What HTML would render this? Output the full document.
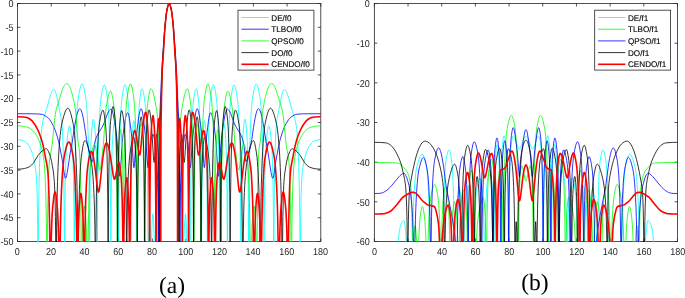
<!DOCTYPE html>
<html lang="en"><head><meta charset="utf-8"><title>Radiation patterns</title>
<style>
html,body{margin:0;padding:0;background:#fff;}
body{width:685px;height:298px;overflow:hidden;}
svg{display:block;text-rendering:geometricPrecision;}
.tk text{font-family:"Liberation Sans",Arial,Helvetica,sans-serif;font-size:10px;fill:#262626;}
.lg{font-family:"Liberation Sans",Arial,Helvetica,sans-serif;font-size:8.15px;fill:#000;stroke:#000;stroke-width:0.12px;}
.cap{font-family:"Liberation Serif","Times New Roman",Times,serif;font-size:23.5px;fill:#000;text-anchor:middle;}
</style></head><body>
<svg width="685" height="298" viewBox="0 0 685 298">
<rect width="685" height="298" fill="#fff"/>
<clipPath id="ca"><rect x="17.5" y="2.3" width="303.3" height="239.7"/></clipPath>
<rect x="17.5" y="3.5" width="303.3" height="238.0" fill="#fff" stroke="#262626" stroke-width="0.8"/>
<path d="M17.50 241.5v-3.0M17.50 3.5v3.0M51.20 241.5v-3.0M51.20 3.5v3.0M84.90 241.5v-3.0M84.90 3.5v3.0M118.60 241.5v-3.0M118.60 3.5v3.0M152.30 241.5v-3.0M152.30 3.5v3.0M186.00 241.5v-3.0M186.00 3.5v3.0M219.70 241.5v-3.0M219.70 3.5v3.0M253.40 241.5v-3.0M253.40 3.5v3.0M287.10 241.5v-3.0M287.10 3.5v3.0M320.80 241.5v-3.0M320.80 3.5v3.0M17.5 3.50h3.0M320.8 3.50h-3.0M17.5 27.30h3.0M320.8 27.30h-3.0M17.5 51.10h3.0M320.8 51.10h-3.0M17.5 74.90h3.0M320.8 74.90h-3.0M17.5 98.70h3.0M320.8 98.70h-3.0M17.5 122.50h3.0M320.8 122.50h-3.0M17.5 146.30h3.0M320.8 146.30h-3.0M17.5 170.10h3.0M320.8 170.10h-3.0M17.5 193.90h3.0M320.8 193.90h-3.0M17.5 217.70h3.0M320.8 217.70h-3.0M17.5 241.50h3.0M320.8 241.50h-3.0" stroke="#262626" stroke-width="0.8" fill="none"/>
<g class="tk" text-anchor="middle">
<text transform="translate(17.2 254.9) scale(0.9 1)">0</text>
<text transform="translate(50.9 254.9) scale(0.9 1)">20</text>
<text transform="translate(84.6 254.9) scale(0.9 1)">40</text>
<text transform="translate(118.3 254.9) scale(0.9 1)">60</text>
<text transform="translate(152.0 254.9) scale(0.9 1)">80</text>
<text transform="translate(185.7 254.9) scale(0.9 1)">100</text>
<text transform="translate(219.4 254.9) scale(0.9 1)">120</text>
<text transform="translate(253.1 254.9) scale(0.9 1)">140</text>
<text transform="translate(286.8 254.9) scale(0.9 1)">160</text>
<text transform="translate(320.5 254.9) scale(0.9 1)">180</text>
</g>
<g class="tk" text-anchor="end">
<text transform="translate(13.5 7.25) scale(0.9 1)">0</text>
<text transform="translate(13.5 31.05) scale(0.9 1)">-5</text>
<text transform="translate(13.5 54.85) scale(0.9 1)">-10</text>
<text transform="translate(13.5 78.65) scale(0.9 1)">-15</text>
<text transform="translate(13.5 102.45) scale(0.9 1)">-20</text>
<text transform="translate(13.5 126.25) scale(0.9 1)">-25</text>
<text transform="translate(13.5 150.05) scale(0.9 1)">-30</text>
<text transform="translate(13.5 173.85) scale(0.9 1)">-35</text>
<text transform="translate(13.5 197.65) scale(0.9 1)">-40</text>
<text transform="translate(13.5 221.45) scale(0.9 1)">-45</text>
<text transform="translate(13.5 245.25) scale(0.9 1)">-50</text>
</g>
<g clip-path="url(#ca)" fill="none" stroke-linejoin="round">
<path d="M17.50 139.64L19.18 139.74L20.95 140.06L22.98 140.63L24.75 141.29L25.76 142L26.77 142.98L27.86 144.31L29.04 145.98L30.05 147.76L30.98 149.77L31.82 151.98L32.66 154.61L33.42 157.42L34.18 160.74L34.86 164.23L35.45 167.79L35.78 170.33L36.12 173.58L36.62 180.50L36.96 187.98L37.21 197.16L37.47 211.04L37.64 224.81L37.97 279.58L38.14 279.58L38.48 222.85L38.73 201.92L39.07 183.50L39.49 167.54L39.99 153.82L40.58 142.26L41.17 133.88L41.60 129.39L42.10 125.40L42.86 121.35L43.70 118.01L46.48 109.58L49.43 98.79L50.19 96.28L50.86 94.30L51.71 92.23L52.55 90.69L52.97 90.14L53.31 89.82L53.73 89.58L54.06 89.51L54.40 89.64L54.82 90.12L55.16 90.74L55.58 91.79L56.42 94.69L57.35 98.90L59.29 109.28L60.80 116.56L61.31 119.50L61.98 124.87L62.49 131.82L62.91 141.05L63.25 151.39L63.58 165.63L63.84 180.47L64.17 212.29L64.34 243L64.43 272.83L64.51 279.58L64.60 274.07L64.76 228.65L65.02 200.13L65.27 183.65L65.52 172.20L65.86 161.14L66.20 153.04L66.70 144.50L67.29 138.15L67.80 133.71L68.22 130.61L68.64 128.20L68.98 126.83L69.31 126.02L69.57 125.83L69.82 126.05L70.16 126.97L70.41 128.08L70.75 130.07L71.42 135.53L72.18 143.61L72.68 152.27L73.19 165.99L73.53 180.24L73.78 196.46L73.95 212.94L74.28 279.58L74.54 221.29L74.87 182.81L75.38 153.35L75.72 140.40L76.14 128.09L76.56 118.65L76.98 111.29L77.49 104.60L77.99 99.87L79.17 92.63L80.18 87.85L80.69 86.09L81.11 84.99L81.61 84.17L81.87 83.98L82.04 83.94L82.20 83.98L82.46 84.18L82.96 85.04L83.38 86.18L83.89 88.01L84.90 92.98L86 99.88L86.50 104.53L87.01 110.98L87.51 119.66L87.93 129.21L88.27 139.02L88.61 151.81L88.86 164.58L89.11 182.42L89.37 212.37L89.62 279.58L89.87 212.66L90.12 183.28L90.38 166.27L90.71 151.47L91.05 141.65L91.47 133.91L92.15 125.79L92.65 121.50L92.90 120.12L93.16 119.33L93.33 119.17L93.41 119.20L93.58 119.46L93.83 120.31L94.17 122.18L94.84 128.09L95.52 136.23L95.94 144.46L96.27 154.32L96.53 164.62L96.95 193.05L97.20 231.20L97.37 279.58L97.62 212.45L97.87 181.83L98.30 154.25L98.63 140L98.97 129.25L99.31 120.81L99.73 112.58L100.15 106.33L100.65 100.97L101.67 93.95L102.59 88.95L103.01 87.25L103.44 85.98L103.86 85.18L104.11 84.94L104.28 84.90L104.45 84.95L104.61 85.10L105.04 85.87L105.46 87.17L105.88 88.94L106.72 93.68L107.73 101.04L108.15 105.68L108.57 112.12L109 120.74L109.33 129.70L109.67 141.25L110.01 156.88L110.43 188.55L110.68 228.80L110.85 279.58L111.02 230.38L111.27 192.39L111.69 164.30L112.20 146.83L112.62 138.45L113.29 130.01L113.88 124.83L114.13 123.45L114.39 122.66L114.47 122.54L114.64 122.53L114.89 123.02L115.15 124.03L115.40 125.51L115.99 130.55L116.66 138.34L117.08 145.66L117.42 154.38L117.76 167.07L118.01 181.18L118.35 215.69L118.60 279.58L118.85 212.17L119.11 180.76L119.53 152.23L120.12 128.91L120.45 119.77L120.79 112.58L121.21 105.72L121.63 100.85L122.64 93.30L123.49 88.49L123.91 86.73L124.24 85.68L124.67 84.87L124.83 84.71L125 84.66L125.17 84.72L125.34 84.91L125.68 85.62L126.01 86.74L126.35 88.25L127.11 92.83L128.04 100.15L128.46 104.99L128.88 111.89L129.22 119.24L129.55 128.76L130.06 149.57L130.48 180.30L130.73 219.89L130.90 279.58L131.07 220.20L131.32 181.43L131.49 167.37L131.74 153.05L132 143.42L132.33 135.34L132.75 128.59L133.18 123.54L133.43 121.61L133.60 120.86L133.76 120.60L133.93 120.83L134.10 121.50L134.35 123.24L134.86 128.93L135.37 136.83L135.70 145.30L136.12 163.80L136.46 192.44L136.63 221.49L136.80 279.58L136.97 220.34L137.13 190.13L137.47 159.07L137.98 133.82L138.57 116.57L138.90 110.02L139.33 104.30L140.08 97.45L140.76 92.69L141.09 90.93L141.43 89.64L141.77 88.88L142.02 88.70L142.19 88.76L142.36 88.93L142.70 89.57L143.03 90.58L143.45 92.33L144.30 97.20L145.22 104.17L145.56 108.11L145.90 113.80L146.49 128.70L147.08 152.78L147.58 187.70L147.83 216.51L148.17 279.58L148.42 279.58L148.68 254.04L149.01 237.21L149.44 225.86L149.60 223.37L149.77 222.46L149.94 223.93L150.11 227.89L150.45 241.69L150.78 279.58L151.12 279.58L151.20 276.61L151.46 248.78L151.71 234.38L151.96 226.42L152.30 218.88L152.55 215.24L152.72 214.05L152.81 213.89L152.89 214.01L153.06 214.87L153.31 217.54L153.65 223.23L153.98 230.72L154.24 239.38L154.41 247.95L154.74 279.58L155.16 279.58L155.50 234.32L155.67 220.62L155.92 206.96L156.18 199.13L156.60 191.13L157.02 185.85L157.19 184.77L157.36 184.38L157.52 184.77L157.78 186.63L158.20 192.55L158.79 204.60L159.12 215.08L159.38 231.19L159.55 255L159.63 279.58L159.71 279.58L159.97 167.77L160.14 138.22L160.22 129.94L160.39 121.81L160.89 110.12L161.82 83.29L162.49 66.85L163.17 53.92L164.52 32.46L164.94 27.26L165.70 19.40L166.20 14.85L166.62 11.76L167.04 9.43L167.97 5.79L168.56 4.14L168.81 3.72L169.07 3.51L169.32 3.56L169.57 3.84L169.82 4.32L170.16 5.24L171.17 9.07L171.59 11.23L172.10 14.85L172.60 19.40L173.36 27.26L173.78 32.46L175.13 53.92L175.81 66.85L176.48 83.29L177.41 110.12L177.91 121.81L178.08 129.94L178.16 138.22L178.33 167.77L178.59 279.58L178.67 279.58L178.75 255L178.92 231.19L179.18 215.08L179.51 204.60L180.10 192.55L180.52 186.63L180.78 184.77L180.95 184.38L181.11 184.77L181.28 185.85L181.70 191.13L182.12 199.13L182.38 206.96L182.63 220.62L182.80 234.32L183.14 279.58L183.56 279.58L183.89 247.95L184.06 239.38L184.31 230.72L184.65 223.23L184.99 217.54L185.24 214.87L185.41 214.01L185.49 213.89L185.58 214.05L185.75 215.24L186 218.88L186.34 226.42L186.59 234.38L186.84 248.78L187.10 276.61L187.18 279.58L187.52 279.58L187.85 241.69L188.19 227.89L188.36 223.93L188.53 222.46L188.70 223.37L188.86 225.86L189.29 237.21L189.62 254.04L189.88 279.58L190.13 279.58L190.47 216.51L190.72 187.70L191.22 152.78L191.81 128.70L192.40 113.80L192.74 108.11L193.08 104.17L193.92 97.77L194.68 93.16L195.35 90.29L195.69 89.37L196.03 88.83L196.19 88.72L196.36 88.72L196.53 88.88L196.70 89.19L197.04 90.22L197.37 91.76L198.05 96.13L198.89 103.45L199.31 108.67L199.65 114.75L200.24 130.77L200.58 144.64L200.83 159.07L201.17 190.13L201.33 220.34L201.50 279.58L201.67 221.49L201.92 183.12L202.34 155L202.68 142.77L203.02 135.34L203.52 127.80L203.95 123.24L204.20 121.50L204.37 120.83L204.54 120.60L204.70 120.86L204.87 121.61L205.12 123.54L205.55 128.59L206.05 136.93L206.30 143.42L206.73 161.91L207.06 190.86L207.23 220.20L207.40 279.58L207.57 219.89L207.74 190.05L208.07 159.52L208.33 145.32L208.66 131.58L209 121.39L209.34 113.56L209.67 107.48L210.10 101.86L210.85 95.31L211.70 89.60L212.37 86.42L212.71 85.40L213.04 84.80L213.21 84.67L213.38 84.67L213.55 84.78L213.80 85.13L214.22 86.17L214.64 87.73L215.07 89.77L215.57 92.75L216.58 100.09L217 104.60L217.43 111.03L217.76 117.81L218.10 126.41L218.44 137.47L218.77 152.23L219.19 180.76L219.45 212.17L219.70 279.58L219.95 215.69L220.29 181.18L220.54 167.07L220.88 154.38L221.22 145.66L221.64 138.34L222.31 130.55L222.90 125.51L223.15 124.03L223.41 123.02L223.66 122.53L223.83 122.54L223.91 122.66L224.17 123.45L224.42 124.83L225.01 130.01L225.68 138.45L226.10 146.83L226.61 164.30L227.03 192.39L227.28 230.38L227.45 279.58L227.62 228.80L227.87 188.55L228.29 156.88L228.88 132.30L229.22 122.78L229.64 113.65L230.06 106.82L230.48 101.84L231.33 95.37L232.17 90.20L232.93 86.87L233.26 85.87L233.60 85.21L233.85 84.95L234.02 84.90L234.19 84.94L234.44 85.18L234.87 85.98L235.37 87.56L235.88 89.73L236.38 92.43L237.48 99.64L237.98 104.30L238.40 109.87L238.82 117.25L239.25 126.95L239.58 137.04L239.92 150.25L240.17 163.46L240.43 181.83L240.68 212.45L240.93 279.58L241.18 214.32L241.52 179.13L241.77 164.62L242.11 151.51L242.45 142.50L242.87 135.01L243.54 127.22L244.13 122.18L244.39 120.70L244.64 119.69L244.89 119.20L245.06 119.21L245.14 119.33L245.40 120.12L245.65 121.50L246.24 126.68L246.91 135.12L247.25 141.65L247.59 151.47L247.84 161.94L248.26 191.01L248.51 229.78L248.68 279.58L248.85 229.61L249.10 190.37L249.52 159.91L249.86 144.95L250.20 133.82L250.62 123.18L251.04 115L251.55 107.51L252.05 102L252.39 99.26L252.81 96.52L253.91 90.30L254.75 86.74L255.17 85.45L255.59 84.53L255.84 84.18L256.10 83.98L256.26 83.94L256.52 84.03L256.77 84.27L257.02 84.65L257.53 85.84L258.03 87.52L258.62 90.05L259.80 96.57L260.48 101.24L260.98 106.60L261.49 114.02L261.99 124.02L262.41 135.05L262.84 149.77L263.17 165.96L263.43 182.81L263.76 221.29L264.02 279.58L264.27 224.71L264.44 203.85L264.69 184.91L265.11 165.99L265.62 152.27L266.21 142.51L266.80 136.32L267.39 131.27L267.89 128.08L268.14 126.97L268.40 126.22L268.65 125.86L268.73 125.83L268.90 125.92L269.15 126.35L269.49 127.45L270.08 130.61L270.67 135.11L271.35 141.44L271.68 145.68L272.10 153.04L272.44 161.14L272.95 179.43L273.28 200.13L273.54 228.65L273.70 274.07L273.79 279.58L273.87 272.83L274.04 225.17L274.38 186.67L274.88 157.91L275.22 145.83L275.64 135.10L275.89 130.38L276.23 125.75L276.65 121.91L277.07 118.96L277.66 115.70L279.10 108.84L281.12 98.07L281.88 94.69L282.63 92.03L283.22 90.56L283.73 89.79L284.15 89.52L284.40 89.53L284.74 89.65L285.08 89.89L285.42 90.24L286.09 91.24L286.76 92.60L287.52 94.53L288.95 99.08L291.82 109.58L294.09 116.36L295.02 119.57L295.61 122.14L296.20 125.40L296.62 128.62L296.96 131.95L297.72 142.26L298.31 153.82L298.81 167.54L299.23 183.50L299.57 201.92L299.82 222.85L300.16 279.58L300.33 279.58L300.66 224.81L300.83 211.04L301.09 197.16L301.34 187.98L301.68 180.50L302.18 173.58L302.52 170.33L302.85 167.79L303.44 164.23L304.12 160.74L304.88 157.42L305.63 154.61L306.48 151.98L307.32 149.77L308.25 147.76L309.26 145.98L310.44 144.31L311.53 142.98L312.54 142L313.55 141.29L315.32 140.63L317.35 140.06L319.12 139.74L320.80 139.64" stroke="#00ffff" stroke-width="0.8"/>
<path d="M17.50 113.74L31.06 113.79L35.61 113.86L39.15 114.02L42.02 114.39L42.77 114.58L43.70 114.97L45.47 115.93L46.40 116.51L47.32 117.18L48.25 117.97L48.84 118.57L49.52 119.39L50.61 121L52.21 123.65L53.31 125.72L54.23 127.74L54.91 129.44L55.75 131.86L57.18 136.29L58.02 139.16L58.70 141.87L59.88 147.37L62.24 160.08L62.83 163.64L64.09 172.40L64.60 175.46L65.10 177.57L65.35 178.09L65.52 178.19L65.69 178.13L65.86 177.93L66.28 176.94L66.70 175.32L67.21 172.72L70.24 152.77L71 148.38L72.18 142.16L74.54 127.01L75.72 120.28L76.56 116.27L77.32 113.32L78.08 111.04L78.50 110.08L78.83 109.49L79.26 108.97L79.68 108.72L80.10 108.76L80.52 109.13L80.94 109.81L81.36 110.78L82.20 113.53L83.05 117.27L83.89 121.88L84.73 127.22L86.50 139.38L87.34 144.24L89.87 155.20L90.63 158.18L91.13 159.78L91.56 160.77L91.98 161.38L92.31 161.53L92.40 161.47L92.57 161.03L92.90 159.06L94.17 147.05L94.67 143.21L95.09 141.23L96.11 138.04L97.03 135.76L98.04 133.75L99.05 132.04L101.75 127.82L103.27 125.01L104.28 122.56L106.97 115.13L107.73 113.30L108.41 111.89L109.16 110.61L109.92 109.70L110.34 109.38L110.68 109.22L111.02 109.17L111.27 109.25L111.52 109.49L111.78 109.88L112.28 111.07L112.79 112.76L113.38 115.31L114.56 121.93L116.33 133.83L116.83 138.39L117.42 145.23L119.27 172L119.61 175.12L119.78 175.99L119.95 176.29L120.03 176.17L120.20 175.25L120.45 172.49L121.89 147.62L122.31 141.82L122.64 138.21L123.82 129.04L124.75 122.71L125.59 118.09L126.01 116.25L126.44 114.77L126.94 113.50L127.36 112.90L127.61 112.75L127.78 112.76L128.12 113.13L128.54 114.22L128.96 115.93L129.38 118.17L129.89 121.47L131.32 132.71L131.66 136.14L132.25 144.34L133.34 162.93L133.68 166.73L133.85 167.60L133.93 167.72L134.02 167.62L134.19 166.86L134.52 163.49L135.70 144.88L136.29 136.93L136.71 132.70L137.72 124.64L138.82 116.80L139.33 113.89L139.75 111.90L140.17 110.35L140.59 109.28L140.84 108.89L141.01 108.75L141.26 108.71L141.43 108.84L141.68 109.27L142.02 110.25L142.61 112.94L143.29 117.35L144.04 123.65L145.39 135.90L145.73 139.45L146.23 145.95L147.33 162.03L147.67 165.76L147.92 167.39L148.09 167.72L148.17 167.62L148.34 166.89L148.51 165.56L149.77 148.82L150.11 145.13L150.45 142.44L151.12 139.36L151.79 136.83L152.30 135.42L152.55 134.92L152.81 134.57L153.06 134.41L153.23 134.43L153.48 134.84L153.82 136.07L154.15 137.97L154.74 142.53L156.43 157.79L156.93 164.33L157.36 173.05L157.61 180.92L157.86 193.37L158.11 217.54L158.37 279.58L158.53 207.52L158.70 168.11L158.96 138.41L159.12 128.01L159.29 122.64L160.05 110.12L161.31 80.99L162.07 65.84L162.75 54.91L164.26 33.82L164.77 28.04L165.53 20.60L166.03 16.04L166.54 12.24L167.04 9.43L167.80 6.41L168.39 4.54L168.64 3.98L168.90 3.63L169.15 3.50L169.40 3.63L169.66 3.98L169.99 4.76L170.67 7.04L171.51 10.69L172.01 14.03L172.52 18.25L173.87 31.78L175.47 53.70L176.14 64.35L176.90 79.16L178.25 110.12L179.01 122.64L179.18 128.01L179.34 138.41L179.60 168.11L179.77 207.52L179.93 279.58L180.19 217.54L180.44 193.37L180.69 180.92L180.95 173.05L181.37 164.33L181.87 157.79L183.56 142.53L184.15 137.97L184.48 136.07L184.82 134.84L185.07 134.43L185.24 134.41L185.49 134.57L185.75 134.92L186 135.42L186.51 136.83L187.18 139.36L187.85 142.44L188.19 145.13L188.53 148.82L189.79 165.56L189.96 166.89L190.13 167.62L190.21 167.72L190.38 167.39L190.63 165.76L190.97 162.03L192.07 145.95L192.57 139.45L192.91 135.90L194.26 123.65L195.01 117.35L195.69 112.94L196.28 110.25L196.62 109.27L196.87 108.84L197.04 108.71L197.29 108.75L197.46 108.89L197.71 109.28L198.13 110.35L198.55 111.90L198.97 113.89L199.48 116.80L200.58 124.64L201.59 132.70L202.01 136.93L202.60 144.88L203.78 163.49L204.11 166.86L204.28 167.62L204.37 167.72L204.45 167.60L204.62 166.73L204.96 162.93L206.05 144.34L206.64 136.14L206.98 132.71L208.41 121.47L208.92 118.17L209.34 115.93L209.76 114.22L210.18 113.13L210.52 112.76L210.69 112.75L210.94 112.90L211.36 113.50L211.86 114.77L212.29 116.25L212.71 118.09L213.55 122.71L214.48 129.04L215.66 138.21L215.99 141.82L216.41 147.62L217.85 172.49L218.10 175.25L218.27 176.17L218.35 176.29L218.52 175.99L218.69 175.12L219.03 172L220.88 145.23L221.47 138.39L221.97 133.83L223.74 121.93L224.92 115.31L225.51 112.76L226.02 111.07L226.52 109.88L226.78 109.49L227.03 109.25L227.28 109.17L227.62 109.22L227.96 109.38L228.38 109.70L229.14 110.61L229.89 111.89L230.57 113.30L231.33 115.13L234.02 122.56L235.03 125.01L236.55 127.82L239.25 132.04L240.26 133.75L241.27 135.76L242.19 138.04L243.21 141.23L243.63 143.21L244.13 147.05L245.40 159.06L245.73 161.03L245.90 161.47L245.99 161.53L246.32 161.38L246.74 160.77L247.17 159.78L247.67 158.18L248.43 155.20L250.96 144.24L251.80 139.38L253.57 127.22L254.41 121.88L255.25 117.27L256.10 113.53L256.94 110.78L257.36 109.81L257.78 109.13L258.20 108.76L258.62 108.72L259.04 108.97L259.47 109.49L259.80 110.08L260.22 111.04L260.98 113.32L261.74 116.27L262.58 120.28L263.76 127.01L266.12 142.16L267.30 148.38L268.06 152.77L271.09 172.72L271.60 175.32L272.02 176.94L272.44 177.93L272.61 178.13L272.78 178.19L272.95 178.09L273.20 177.57L273.70 175.46L274.21 172.40L275.47 163.64L276.06 160.08L278.42 147.37L279.60 141.87L280.28 139.16L281.12 136.29L282.55 131.86L283.39 129.44L284.07 127.74L284.99 125.72L286.09 123.65L287.69 121L288.79 119.39L289.46 118.57L290.05 117.97L290.98 117.18L291.90 116.51L292.83 115.93L294.60 114.97L295.52 114.58L296.28 114.39L299.15 114.02L302.69 113.86L307.24 113.79L320.80 113.74" stroke="#0000ff" stroke-width="0.8"/>
<path d="M17.50 125.83L20.03 125.94L22.72 126.25L25.76 126.82L28.28 127.47L29.55 128.10L30.90 129.05L32.41 130.38L34.10 132.11L35.36 133.69L36.62 135.67L37.89 138.08L39.07 140.74L40.25 143.86L41.34 147.23L42.19 150.38L42.86 153.55L43.36 156.48L43.87 160.09L44.21 163.21L44.54 167.26L45.22 178.88L45.72 192.20L46.06 204.93L46.40 223.78L46.65 247.21L46.82 276.13L46.90 279.58L47.07 279.58L47.16 274.76L47.32 244.65L47.49 226.67L47.75 208.47L48 195.59L48.34 183L48.67 173.77L49.09 165.51L49.52 160.09L49.85 157.24L50.19 155.06L51.54 148.45L52.13 144.73L52.63 140.22L53.90 126.77L54.57 120.28L55.33 114.34L56 110.50L56.76 107.57L58.53 102.14L60.97 93.95L61.90 91.08L62.74 88.77L63.75 86.46L64.26 85.52L64.76 84.74L65.27 84.13L65.69 83.77L66.11 83.55L66.53 83.47L66.95 83.53L67.46 83.78L67.97 84.19L68.47 84.78L68.98 85.53L69.48 86.44L70.49 88.74L71.50 91.69L72.52 95.30L73.44 99.23L74.37 103.80L75.46 110.12L75.80 112.81L76.31 118.73L77.57 137.35L78.08 141.63L79.17 148.69L79.59 152.95L79.93 159.23L80.18 166.68L80.69 191.10L81.02 219.74L81.36 278.56L81.45 279.58L81.70 279.58L81.78 275.89L82.12 245.16L82.37 233.64L82.63 225.99L82.96 219.01L83.47 211.08L83.89 206.94L84.06 206.10L84.23 205.80L84.39 205.99L84.65 206.94L85.15 210.86L85.74 218.11L86.16 224.93L86.50 233.29L86.84 246.15L87.09 261.38L87.26 277.22L87.34 279.58L87.85 279.58L88.10 248.88L88.35 228.59L88.69 209.75L89.11 193.10L89.62 178.97L90.21 167.69L90.80 160.53L91.72 153.86L92.57 149.04L92.99 147.19L93.41 145.76L93.83 144.82L94.17 144.44L94.34 144.40L94.50 144.45L94.84 144.87L95.18 145.67L95.52 146.81L96.27 150.46L96.95 154.70L98.38 164.88L98.97 168.23L99.31 169.49L99.48 169.87L99.64 170.07L99.73 170.10L99.90 170L100.23 169.20L100.74 166.74L101.24 163.18L103.35 144.56L103.77 139.08L105.12 117.93L105.63 111.85L106.05 108.02L107.31 100.64L107.90 97.73L108.49 95.24L109 93.51L109.50 92.20L110.01 91.38L110.26 91.16L110.51 91.08L110.68 91.13L110.85 91.28L111.27 92.01L111.69 93.25L112.11 94.94L112.96 99.48L113.97 106.48L114.47 111.62L114.89 117.69L115.31 125.75L115.65 134.05L115.99 144.65L116.33 158.75L116.75 186.10L117 216.55L117.25 279.58L117.59 205.84L117.93 177.09L118.35 158.11L118.60 150.89L118.94 144.39L119.61 135.58L120.12 131.26L120.37 130.06L120.54 129.69L120.62 129.64L120.71 129.71L120.87 130.22L121.21 132.59L121.63 137.64L122.14 145.97L122.48 155.18L122.73 165.97L122.98 182.35L123.23 211.32L123.49 279.58L123.74 210.28L123.99 179.90L124.41 152.62L124.75 138.55L125.09 127.95L125.42 119.63L125.85 111.51L126.27 105.33L126.77 100.01L127.78 92.99L128.71 87.99L129.13 86.30L129.55 85.03L129.97 84.23L130.23 83.99L130.40 83.94L130.56 83.99L130.82 84.23L131.24 85.03L131.66 86.30L132.08 87.99L133.01 92.99L134.02 100.02L134.52 105.44L134.94 111.80L135.37 120.19L135.70 128.80L136.04 139.76L136.38 154.30L136.80 182.33L137.05 213.29L137.30 279.58L137.47 232.68L137.72 194.81L138.06 170.97L138.57 151.53L138.90 143.59L139.24 138.20L140 129.56L140.34 126.72L140.67 124.69L140.93 123.77L141.09 123.49L141.18 123.45L141.26 123.51L141.52 124.27L141.94 127.29L142.44 133.23L142.86 139.61L143.20 147.59L143.54 160.36L143.79 175.01L144.13 210.92L144.38 279.58L144.63 210.70L144.89 180.67L145.14 162.80L145.39 150.04L145.73 137.36L146.15 125.67L146.66 115.52L147.25 107.36L147.75 102.82L148.85 95.41L149.27 93.15L149.69 91.30L150.11 89.90L150.53 89.02L150.87 88.72L151.04 88.71L151.29 88.81L151.71 89.22L152.22 90.10L152.72 91.35L153.23 92.95L154.24 97.04L156.01 106.20L156.93 111.83L157.52 116.63L158.03 122.28L158.45 128.85L158.79 136.10L159.12 146.36L159.38 157.60L159.71 183.69L159.88 211.06L160.05 279.58L160.14 218.16L160.30 155.82L160.47 130.85L160.56 124.87L160.72 118.76L161.06 110.12L161.90 84.30L162.58 67.35L163.25 53.98L164.60 31.55L164.94 27.29L165.70 19.33L166.20 14.80L166.62 11.74L167.04 9.43L167.97 5.79L168.48 4.32L168.73 3.84L168.98 3.56L169.23 3.51L169.49 3.72L169.74 4.14L170.08 4.99L170.84 7.69L171.51 10.72L171.93 13.49L172.44 17.73L173.11 24.53L173.62 30.41L174.46 43.63L175.22 57.02L175.72 67.35L176.40 84.30L177.24 110.12L177.57 118.76L177.74 124.87L177.83 130.85L178 155.82L178.16 218.16L178.25 279.58L178.42 211.06L178.59 183.69L178.75 168.21L179.01 153.38L179.26 143.41L179.60 134.06L180.02 125.96L180.44 120.19L181.03 114.40L181.70 109.61L183.39 100.32L184.57 94.85L185.16 92.66L185.66 91.12L186.25 89.76L186.76 89.02L187.18 88.73L187.43 88.72L187.60 88.82L188.02 89.48L188.44 90.68L188.86 92.36L189.37 94.93L190.38 101.57L190.97 106.46L191.48 112.83L191.90 120.16L192.32 129.91L192.66 140.19L192.99 153.90L193.41 180.67L193.67 210.70L193.92 279.58L194.17 210.92L194.43 181.49L194.68 164.61L195.01 150.26L195.35 141.24L195.77 134.41L196.28 128.12L196.70 124.71L196.95 123.66L197.12 123.45L197.29 123.60L197.54 124.32L197.88 126.13L198.22 128.78L198.89 136.08L199.31 142.03L199.73 151.53L200.24 170.97L200.58 194.81L200.83 232.68L201 279.58L201.25 213.29L201.50 182.33L201.92 154.30L202.51 131.29L202.85 122.16L203.27 113.30L203.69 106.57L204.20 100.77L205.04 94.61L205.97 89.20L206.73 86.01L207.15 84.83L207.48 84.23L207.74 83.99L207.91 83.94L208.07 83.99L208.33 84.23L208.75 85.03L209.25 86.61L209.76 88.78L210.26 91.48L211.36 98.69L211.86 103.32L212.29 108.83L212.71 116.11L213.13 125.69L213.47 135.64L213.80 148.67L214.06 161.71L214.31 179.90L214.56 210.28L214.81 279.58L215.07 211.32L215.32 182.35L215.57 165.97L215.82 155.18L216.16 145.97L216.58 138.88L217 133.43L217.34 130.65L217.51 129.90L217.68 129.64L217.85 129.83L218.10 130.78L218.60 134.70L219.19 141.95L219.53 147.24L219.87 155.44L220.29 172.33L220.63 196.51L220.80 217.90L221.05 279.58L221.30 216.55L221.55 186.10L221.97 158.75L222.56 136.46L222.90 127.65L223.32 119.13L223.74 112.70L224.17 107.95L225.01 101.66L225.85 96.58L226.61 93.25L227.03 92.01L227.37 91.38L227.62 91.13L227.79 91.08L228.04 91.16L228.38 91.48L228.88 92.39L229.47 94.04L230.06 96.25L230.74 99.35L232.17 107.40L232.67 111.85L233.18 117.93L234.53 139.08L234.95 144.56L237.06 163.18L237.56 166.74L238.07 169.20L238.40 170L238.57 170.10L238.66 170.07L238.91 169.70L239.25 168.60L239.92 164.88L241.44 154.13L242.19 149.53L242.62 147.50L242.95 146.20L243.37 145.04L243.71 144.52L243.88 144.41L244.13 144.44L244.30 144.59L244.55 144.97L244.97 146.01L245.40 147.52L245.82 149.46L246.32 152.27L247.42 159.80L248.01 166.43L248.51 175.26L249.02 187.82L249.44 202.39L249.78 218.34L250.03 234.55L250.45 279.58L250.96 279.58L251.04 277.22L251.21 261.38L251.46 246.15L251.80 233.29L252.14 224.93L252.56 218.11L253.15 210.86L253.65 206.94L253.91 205.99L254.07 205.80L254.24 206.10L254.41 206.94L254.83 211.08L255.34 219.01L255.67 225.99L255.93 233.64L256.18 245.16L256.52 275.89L256.60 279.58L256.85 279.58L256.94 278.56L257.19 229.92L257.53 196.95L257.78 181.20L258.03 169.77L258.29 161.44L258.62 154.15L259.13 148.69L260.22 141.63L260.73 137.35L262.08 117.61L262.41 113.65L262.75 110.69L264.10 102.92L264.77 99.62L265.53 96.31L266.21 93.71L266.96 91.15L267.72 88.96L268.48 87.14L269.24 85.67L269.91 84.67L270.59 83.96L271.26 83.56L271.60 83.48L271.94 83.48L272.52 83.71L273.20 84.32L273.87 85.24L274.46 86.29L275.05 87.55L276.40 91.08L277.50 94.50L279.77 102.14L281.71 108.15L282.21 110.12L282.63 112.24L283.48 118.13L284.15 124.23L285.58 139.37L286.17 144.73L286.76 148.45L288.11 155.06L288.62 158.56L289.12 164.21L289.63 173.77L290.05 185.77L290.39 199.47L290.81 226.67L290.98 244.65L291.14 274.76L291.23 279.58L291.40 279.58L291.48 276.13L291.65 247.21L291.99 218.20L292.32 201.33L292.66 189.59L293.17 177.12L293.84 166.15L294.43 160.09L294.94 156.48L295.44 153.55L296.11 150.38L296.96 147.23L298.05 143.86L299.23 140.74L300.41 138.08L301.68 135.67L302.94 133.69L304.20 132.11L305.89 130.38L307.40 129.05L308.75 128.10L310.02 127.47L312.54 126.82L315.58 126.25L318.27 125.94L320.80 125.83" stroke="#00ff00" stroke-width="0.8"/>
<path d="M17.50 169.15L19.35 169.09L21.88 168.89L23.14 168.73L24.49 168.47L26.35 167.98L28.28 167.31L29.13 166.93L30.05 166.34L31.65 164.99L32.58 164.06L33 163.55L33.76 162.42L37.89 155.75L38.73 154.55L39.49 153.62L40.92 152.08L42.27 150.84L44.38 149.37L45.30 148.87L45.89 148.70L46.40 148.72L46.90 149.04L47.41 149.63L47.91 150.45L48.50 151.63L50.10 155.55L50.78 157.86L51.54 161.22L52.38 165.77L53.22 170.99L53.64 174.19L53.98 177.39L54.32 181.51L54.57 185.84L55.08 200.20L55.41 216.47L55.75 245.48L55.92 274.64L56 279.58L56.17 279.58L56.26 274.52L56.42 245.08L56.59 227.58L56.84 209.81L57.10 197.02L57.52 181.34L58.02 167.64L58.61 155.67L59.29 145.28L60.13 135.61L60.97 128.60L61.39 125.91L61.82 123.71L63.16 118.23L64.01 115.24L64.76 112.92L65.52 111.01L66.28 109.55L66.95 108.68L67.29 108.41L67.63 108.26L67.97 108.23L68.22 108.30L68.56 108.55L68.89 108.94L69.40 109.79L69.90 110.93L70.41 112.33L71 114.28L72.35 119.80L73.10 123.39L73.44 125.33L74.03 129.77L74.62 135.70L75.21 143.39L75.72 151.78L76.22 162.44L76.64 173.86L76.98 185.56L77.32 201.04L77.74 232.09L78.08 279.58L78.24 279.58L78.33 272.80L78.58 234.84L78.92 210.58L79.42 189.83L80.01 174.92L80.43 167.45L80.86 161.74L81.28 157.39L81.87 152.90L82.71 147.47L83.47 143.72L83.89 142.20L84.23 141.33L84.56 140.78L84.73 140.64L84.90 140.59L85.15 140.63L85.41 140.76L86 141.38L86.59 142.39L87.17 143.77L87.76 145.48L88.35 147.49L89.70 153.02L90.80 158.34L91.64 163.71L92.40 170.16L92.99 176.81L93.49 184.29L93.91 192.49L94.25 201.09L94.59 212.74L94.84 225.03L95.09 243.58L95.35 279.58L95.60 279.58L95.68 275.43L95.94 231.95L96.36 196.32L96.95 167.97L97.28 156.81L97.71 145.98L98.13 137.69L98.55 131.41L98.97 126.84L99.48 123.20L100.57 116.75L101.08 114.37L101.50 112.74L102 111.26L102.42 110.48L102.68 110.21L102.85 110.13L103.01 110.14L103.18 110.30L103.44 110.82L103.77 111.98L104.36 115.16L105.04 120.28L105.71 126.63L106.05 131.15L106.38 137.20L106.97 152.97L107.39 171.27L107.73 196.05L107.90 217.56L108.15 279.58L108.41 216.09L108.57 193.76L108.91 167.67L109.42 145.29L110.01 129.97L110.26 125.57L110.60 121.30L111.35 114.22L112.03 109.53L112.37 107.93L112.62 107.11L112.79 106.76L112.96 106.58L113.12 106.58L113.21 106.66L113.46 107.19L113.71 108.13L114.22 111.09L114.81 116.07L115.40 122.27L115.74 127.33L115.99 132.48L116.49 147.48L116.92 168.09L117.25 197.93L117.42 227.44L117.59 279.58L117.76 227.17L117.93 197.46L118.18 173.19L118.60 150.16L119.11 134.27L119.61 125.35L120.28 117.81L120.79 113.61L121.04 112.13L121.30 111.12L121.55 110.63L121.63 110.60L121.80 110.69L122.05 111.12L122.31 111.89L122.90 114.84L123.57 119.88L124.24 126.24L124.75 134.41L125.26 148.19L125.76 170.45L126.18 202.05L126.44 236.54L126.60 279.58L126.77 279.58L127.03 234.21L127.36 207.12L127.78 189L128.37 173.96L128.79 166.71L129.30 160.20L129.81 155.27L130.48 150.25L131.41 144.46L132.25 140.43L132.67 138.97L133.01 138.10L133.43 137.43L133.76 137.26L133.93 137.43L134.10 137.93L134.52 140.43L134.94 144.46L135.45 150.83L135.96 159.92L136.38 173.17L136.71 190.73L136.97 213.37L137.30 279.58L137.56 220.44L137.72 196.99L137.98 174.99L138.40 152.71L138.82 139.32L139.07 134.06L139.33 130.46L139.83 124.58L140.34 120.05L140.59 118.45L140.84 117.35L141.09 116.82L141.18 116.79L141.26 116.83L141.43 117.17L141.60 117.83L142.02 120.66L142.44 124.96L142.95 131.53L143.37 139.93L143.79 154.53L144.13 173.82L144.38 198.20L144.55 228.09L144.72 279.58L144.89 228.70L145.05 199.25L145.39 169.54L145.81 149.12L146.32 134.40L146.57 129.42L146.91 124.63L147.58 117.61L148.17 112.99L148.42 111.58L148.68 110.57L148.93 110L149.01 109.91L149.18 109.91L149.35 110.10L149.60 110.73L150.11 113.10L150.53 116.15L151.04 121.03L151.88 131.96L153.40 156.49L153.73 160.45L153.98 162.14L154.15 162.48L154.24 162.35L154.49 160.58L155.75 141.13L156.09 137.31L156.43 134.97L156.60 134.47L156.68 134.40L156.77 134.48L157.02 135.54L157.36 138.64L157.78 144.69L158.20 152.48L158.53 161.46L158.79 172.15L158.96 183.25L159.21 216.83L159.38 279.58L159.63 170.50L159.88 135.08L160.14 122.15L160.72 110.12L161.82 81.21L162.49 66.08L163.08 55.24L164.60 31.37L165.02 26.35L165.78 18.59L166.29 14.17L166.71 11.23L167.13 9.07L168.14 5.24L168.64 3.98L168.90 3.63L169.15 3.50L169.40 3.63L169.66 3.98L170.16 5.24L171.17 9.07L171.59 11.23L172.01 14.17L172.52 18.59L173.28 26.35L173.70 31.37L175.22 55.24L175.81 66.08L176.48 81.21L177.57 110.12L178.16 122.15L178.42 135.08L178.67 170.50L178.92 279.58L179.09 216.83L179.34 183.25L179.51 172.15L179.77 161.46L180.10 152.48L180.52 144.69L180.95 138.64L181.28 135.54L181.53 134.48L181.62 134.40L181.70 134.47L181.87 134.97L182.21 137.31L182.55 141.13L183.81 160.58L184.06 162.35L184.15 162.48L184.31 162.14L184.57 160.45L184.90 156.49L186.42 131.96L187.26 121.03L187.77 116.15L188.19 113.10L188.70 110.73L188.95 110.10L189.12 109.91L189.29 109.91L189.37 110L189.62 110.57L189.88 111.58L190.13 112.99L190.72 117.61L191.39 124.63L191.73 129.42L191.98 134.40L192.49 149.12L192.91 169.54L193.25 199.25L193.41 228.70L193.58 279.58L193.75 228.09L193.92 198.20L194.17 173.82L194.51 154.53L194.93 139.93L195.35 131.53L195.86 124.96L196.28 120.66L196.70 117.83L196.87 117.17L197.04 116.83L197.12 116.79L197.21 116.82L197.46 117.35L197.71 118.45L197.96 120.05L198.47 124.58L198.97 130.46L199.23 134.06L199.48 139.32L199.90 152.71L200.32 174.99L200.58 196.99L200.74 220.44L201 279.58L201.33 213.37L201.59 190.73L201.92 173.17L202.34 159.92L202.85 150.83L203.36 144.46L203.78 140.43L204.20 137.93L204.37 137.43L204.54 137.26L204.87 137.43L205.29 138.10L205.63 138.97L206.05 140.43L206.89 144.46L207.82 150.25L208.49 155.27L209 160.20L209.51 166.71L209.93 173.96L210.52 189L210.94 207.12L211.28 234.21L211.53 279.58L211.70 279.58L211.86 236.54L212.12 202.05L212.54 170.45L213.04 148.19L213.55 134.41L214.06 126.24L214.73 119.88L215.40 114.84L215.99 111.89L216.25 111.12L216.50 110.69L216.67 110.60L216.75 110.63L217 111.12L217.26 112.13L217.51 113.61L218.02 117.81L218.69 125.35L219.19 134.27L219.70 150.16L220.12 173.19L220.37 197.46L220.54 227.17L220.71 279.58L220.88 227.44L221.05 197.93L221.39 168.09L221.81 147.48L222.31 132.48L222.56 127.33L222.90 122.27L223.49 116.07L224.08 111.09L224.59 108.13L224.84 107.19L225.09 106.66L225.18 106.58L225.34 106.58L225.51 106.76L225.68 107.11L225.93 107.93L226.27 109.53L226.95 114.22L227.70 121.30L228.04 125.57L228.29 129.97L228.88 145.29L229.39 167.67L229.73 193.76L229.89 216.09L230.15 279.58L230.40 217.56L230.57 196.05L230.91 171.27L231.33 152.97L231.92 137.20L232.25 131.15L232.59 126.63L233.26 120.28L233.94 115.16L234.53 111.98L234.87 110.82L235.12 110.30L235.29 110.14L235.45 110.13L235.62 110.21L235.88 110.48L236.30 111.26L236.80 112.74L237.22 114.37L237.73 116.75L238.82 123.20L239.33 126.84L239.75 131.41L240.17 137.69L240.59 145.98L241.02 156.81L241.35 167.97L241.94 196.32L242.36 231.95L242.62 275.43L242.70 279.58L242.95 279.58L243.21 243.58L243.46 225.03L243.71 212.74L244.05 201.09L244.39 192.49L244.81 184.29L245.31 176.81L245.90 170.16L246.66 163.71L247.50 158.34L248.60 153.02L249.95 147.49L250.54 145.48L251.13 143.77L251.72 142.39L252.30 141.38L252.89 140.76L253.15 140.63L253.40 140.59L253.57 140.64L253.74 140.78L254.07 141.33L254.41 142.20L254.83 143.72L255.59 147.47L256.43 152.90L257.02 157.39L257.44 161.74L257.87 167.45L258.29 174.92L258.88 189.83L259.38 210.58L259.72 234.84L259.97 272.80L260.06 279.58L260.22 279.58L260.56 232.09L260.98 201.04L261.32 185.56L261.66 173.86L262.08 162.44L262.58 151.78L263.09 143.39L263.68 135.70L264.27 129.77L264.86 125.33L265.19 123.39L265.95 119.80L267.30 114.28L267.89 112.33L268.40 110.93L268.90 109.79L269.41 108.94L269.74 108.55L270.08 108.30L270.33 108.23L270.67 108.26L271.01 108.41L271.35 108.68L272.02 109.55L272.78 111.01L273.54 112.92L274.29 115.24L275.14 118.23L276.48 123.71L276.91 125.91L277.33 128.60L278.17 135.61L279.01 145.28L279.69 155.67L280.28 167.64L280.78 181.34L281.20 197.02L281.46 209.81L281.71 227.58L281.88 245.08L282.05 274.52L282.13 279.58L282.30 279.58L282.38 274.64L282.55 245.48L282.89 216.47L283.22 200.20L283.73 185.84L283.98 181.51L284.32 177.39L284.66 174.19L285.08 170.99L285.92 165.77L286.76 161.22L287.52 157.86L288.20 155.55L289.80 151.63L290.39 150.45L290.89 149.63L291.40 149.04L291.90 148.72L292.41 148.70L293 148.87L293.92 149.37L296.03 150.84L297.38 152.08L298.81 153.62L299.57 154.55L300.41 155.75L304.54 162.42L305.30 163.55L305.72 164.06L306.65 164.99L308.25 166.34L309.17 166.93L310.02 167.31L311.95 167.98L313.81 168.47L315.16 168.73L316.42 168.89L318.95 169.09L320.80 169.15" stroke="#000000" stroke-width="0.8"/>
<path d="M17.50 116.79L23.40 116.93L25.25 117.19L27.19 117.62L28.54 118.21L30.14 119.25L31.49 120.31L32.75 121.66L34.43 123.95L36.20 126.77L37.72 129.76L39.32 133.43L40.75 137.23L41.93 140.95L42.86 144.51L43.79 148.82L45.47 157.64L46.65 163.33L47.24 166.75L47.91 172.41L48.42 180.44L49.01 196.78L49.52 220.29L49.85 246.07L50.10 279.58L50.61 279.58L50.95 253.81L51.20 240.30L51.62 225.76L52.13 214.77L52.63 207.66L53.64 198.07L54.06 195.17L54.40 193.47L54.74 192.38L54.91 192.09L55.08 192L55.24 192.11L55.41 192.44L55.75 193.69L56.09 195.65L56.42 198.22L57.35 207.75L57.77 214.37L58.19 224.40L58.61 239.93L58.87 254.22L59.12 277.11L59.20 279.58L59.71 279.58L60.13 242.76L60.64 216.57L60.97 204.61L61.39 192.96L61.82 183.77L62.32 175.03L62.83 168.18L63.42 162.08L63.92 158.24L64.68 154.16L65.86 148.76L66.45 146.54L66.95 144.95L67.46 143.67L67.97 142.73L68.47 142.17L68.89 142.02L69.06 142.05L69.31 142.21L69.74 142.76L70.16 143.63L70.66 145.08L71.59 148.71L72.68 154.33L73.27 157.83L73.78 162.01L74.28 167.76L74.79 175.35L75.21 183.46L75.63 193.75L75.97 204.21L76.31 217.71L76.73 242.60L77.06 279.58L77.57 279.58L77.99 242.14L78.33 226.38L78.67 216.18L79 209.43L79.51 202.60L80.01 197.30L80.43 194.46L80.69 193.60L80.86 193.42L80.94 193.47L81.19 194.16L81.53 196.22L81.87 199.37L82.20 203.43L82.79 212.73L83.22 224.80L83.55 240.71L83.80 260.04L83.97 279.58L84.48 279.58L84.73 249.29L84.98 230.99L85.32 214.16L85.74 199.32L86.33 184.85L86.92 174.95L87.26 170.80L87.60 167.57L88.52 161.23L89.11 157.83L89.62 155.41L90.12 153.51L90.63 152.21L90.88 151.81L91.13 151.58L91.30 151.54L91.56 151.63L91.98 152.17L92.48 153.41L92.90 154.89L93.41 157.18L94.42 163.28L95.35 170.39L96.95 184.21L97.54 188.51L97.87 190.36L98.13 191.33L98.38 191.89L98.55 192L98.63 191.96L98.89 191.50L99.14 190.54L99.73 186.71L102.17 163.50L102.93 157.25L103.60 152.55L104.36 148.31L105.04 145.52L105.46 144.27L105.79 143.56L106.13 143.12L106.47 142.97L106.72 143.04L107.06 143.34L107.39 143.85L107.73 144.58L108.41 146.61L109.16 149.74L109.84 153.21L110.51 157.22L113.04 174.12L113.63 177.09L113.97 178.28L114.22 178.85L114.47 179.13L114.64 179.12L114.72 179.06L114.98 178.61L115.31 177.54L115.82 175.20L117.42 166.46L117.93 164.38L118.43 162.99L118.68 162.62L118.94 162.48L119.11 162.60L119.27 162.93L119.70 164.61L120.20 168.01L121.04 176.28L121.46 182.09L121.89 191.47L122.22 202.47L122.56 218.41L122.81 236.30L123.15 279.58L123.49 279.58L123.66 255.20L123.91 231.46L124.24 212.89L124.67 199.05L124.92 193.80L125.26 188.86L125.68 183.66L126.01 180.51L126.35 178.46L126.60 177.76L126.69 177.72L126.77 177.78L126.86 177.95L127.11 179.11L127.61 183.86L128.20 192.46L128.54 199.54L128.79 207.46L129.05 218.88L129.30 236.85L129.64 279.58L129.81 279.58L130.14 225.89L130.56 191.65L130.90 175.04L131.24 163.21L131.66 152.86L131.91 148.49L132.16 145.34L133.01 137.58L133.68 133.12L134.02 131.66L134.35 130.80L134.61 130.59L134.78 130.65L134.94 130.83L135.28 131.49L135.62 132.55L136.38 136.12L137.05 140.39L138.31 149.45L138.90 152.91L139.16 153.95L139.41 154.63L139.66 154.87L139.83 154.70L140 154.21L140.25 152.94L140.67 149.69L142.61 129.13L143.62 120.41L144.21 116.64L144.72 114.28L145.22 112.79L145.48 112.40L145.73 112.27L145.90 112.41L146.15 113.14L146.40 114.41L146.66 116.17L147.16 120.96L147.75 128.17L148.26 138.55L148.68 153.27L149.01 172.28L149.27 196.22L149.44 225.70L149.60 279.58L149.86 207.55L150.11 177.33L150.36 159.79L150.62 147.85L150.87 139.32L151.20 131.69L151.71 124.52L152.22 119.08L152.64 116.34L152.89 115.65L152.97 115.60L153.06 115.66L153.23 116.12L153.48 117.57L153.98 122.81L154.57 131.85L154.83 137.93L155.08 146.83L155.33 159.72L155.67 189.26L155.84 218.90L156.01 279.58L156.26 200.75L156.51 170.60L156.77 153.50L157.19 137.20L157.44 131.91L157.86 125.10L158.20 121.16L158.53 118.99L158.70 118.69L158.79 118.83L159.04 120.67L159.46 127.61L159.97 140.41L160.22 151.07L160.39 163.38L160.56 187.41L160.64 213.72L160.72 279.58L160.81 186.32L160.98 129.73L161.06 121.79L161.74 85.03L161.99 74.40L162.33 66.95L163.42 52.53L164.60 32.33L164.94 27.72L165.61 20.38L166.29 14.22L166.96 9.83L167.63 7.02L168.14 5.23L168.56 4.14L168.81 3.72L168.98 3.56L169.15 3.50L169.40 3.62L169.66 3.98L169.91 4.52L170.41 6.08L171.17 9.07L171.51 10.74L171.85 12.94L172.52 18.70L173.28 26.73L173.62 31.09L174.88 52.53L175.97 66.95L176.31 74.40L176.56 85.03L177.24 121.79L177.32 129.73L177.49 186.32L177.57 279.58L177.74 187.41L178 156.41L178.25 143.35L178.67 131.40L179.18 121.71L179.43 119.21L179.60 118.69L179.68 118.77L179.85 119.35L180.19 122L180.52 126.32L180.95 133.44L181.28 142.39L181.62 158.35L181.87 178.50L182.04 200.75L182.29 279.58L182.46 218.90L182.71 179.68L183.14 150.59L183.47 137.93L183.81 130.34L184.31 122.81L184.74 118.24L184.99 116.51L185.16 115.83L185.33 115.60L185.41 115.65L185.58 116.02L185.83 117.21L186.08 119.08L186.67 125.61L187.18 133.25L187.52 141.86L187.77 151.38L188.02 164.83L188.36 195.05L188.53 225.03L188.70 279.58L188.86 225.70L189.03 196.22L189.29 172.28L189.62 153.27L190.04 138.55L190.55 128.17L191.14 120.96L191.64 116.17L191.90 114.41L192.15 113.14L192.40 112.41L192.57 112.27L192.82 112.40L193.08 112.79L193.58 114.28L194.09 116.64L194.68 120.41L195.69 129.13L197.63 149.69L198.05 152.94L198.30 154.21L198.47 154.70L198.64 154.87L198.89 154.63L199.14 153.95L199.40 152.91L199.99 149.45L201.25 140.39L201.92 136.12L202.68 132.55L203.02 131.49L203.36 130.83L203.52 130.65L203.69 130.59L203.95 130.80L204.28 131.66L204.62 133.12L205.29 137.58L206.14 145.34L206.39 148.49L206.64 152.86L207.06 163.21L207.40 175.04L207.74 191.65L208.16 225.89L208.49 279.58L208.66 279.58L209 236.85L209.25 218.88L209.51 207.46L209.76 199.54L210.10 192.46L210.69 183.86L211.19 179.11L211.44 177.95L211.53 177.78L211.61 177.72L211.70 177.76L211.95 178.46L212.29 180.51L212.62 183.66L213.04 188.86L213.38 193.80L213.63 199.05L214.06 212.89L214.39 231.46L214.64 255.20L214.81 279.58L215.15 279.58L215.49 236.30L215.74 218.41L216.08 202.47L216.41 191.47L216.84 182.09L217.26 176.28L218.10 168.01L218.60 164.61L219.03 162.93L219.19 162.60L219.36 162.48L219.62 162.62L219.87 162.99L220.37 164.38L220.88 166.46L222.48 175.20L222.99 177.54L223.32 178.61L223.58 179.06L223.66 179.12L223.83 179.13L224.08 178.85L224.33 178.28L224.67 177.09L225.26 174.12L227.79 157.22L228.46 153.21L229.14 149.74L229.89 146.61L230.57 144.58L230.91 143.85L231.24 143.34L231.58 143.04L231.83 142.97L232.17 143.12L232.51 143.56L232.84 144.27L233.26 145.52L233.94 148.31L234.70 152.55L235.37 157.25L236.13 163.50L238.57 186.71L239.16 190.54L239.41 191.50L239.67 191.96L239.75 192L239.92 191.89L240.17 191.33L240.43 190.36L240.76 188.51L241.35 184.21L242.95 170.39L243.88 163.28L244.89 157.18L245.40 154.89L245.82 153.41L246.32 152.17L246.74 151.63L247 151.54L247.17 151.58L247.42 151.81L247.67 152.21L248.18 153.51L248.68 155.41L249.19 157.83L249.78 161.23L250.70 167.57L251.04 170.80L251.38 174.95L251.97 184.85L252.56 199.32L252.98 214.16L253.32 230.99L253.57 249.29L253.82 279.58L254.33 279.58L254.50 260.04L254.75 240.71L255.09 224.80L255.51 212.73L256.10 203.43L256.43 199.37L256.77 196.22L257.11 194.16L257.36 193.47L257.44 193.42L257.61 193.60L257.87 194.46L258.29 197.30L258.79 202.60L259.30 209.43L259.63 216.18L259.97 226.38L260.31 242.14L260.73 279.58L261.24 279.58L261.57 242.60L261.99 217.71L262.33 204.21L262.67 193.75L263.09 183.46L263.51 175.35L264.02 167.76L264.52 162.01L265.03 157.83L265.62 154.33L266.71 148.71L267.64 145.08L268.14 143.63L268.57 142.76L268.99 142.21L269.24 142.05L269.41 142.02L269.83 142.17L270.33 142.73L270.84 143.67L271.35 144.95L271.85 146.54L272.44 148.76L273.62 154.16L274.38 158.24L274.88 162.08L275.47 168.18L275.98 175.03L276.48 183.77L276.91 192.96L277.33 204.61L277.66 216.57L278.17 242.76L278.59 279.58L279.10 279.58L279.18 277.11L279.43 254.22L279.69 239.93L280.11 224.40L280.53 214.37L280.95 207.75L281.88 198.22L282.21 195.65L282.55 193.69L282.89 192.44L283.06 192.11L283.22 192L283.39 192.09L283.56 192.38L283.90 193.47L284.24 195.17L284.66 198.07L285.67 207.66L286.17 214.77L286.68 225.76L287.10 240.30L287.35 253.81L287.69 279.58L288.20 279.58L288.45 246.07L288.79 220.29L289.29 196.78L289.88 180.44L290.39 172.41L291.06 166.75L291.65 163.33L292.83 157.64L294.51 148.82L295.44 144.51L296.37 140.95L297.55 137.23L298.98 133.43L300.58 129.76L302.10 126.77L303.87 123.95L305.55 121.66L306.81 120.31L308.16 119.25L309.76 118.21L311.11 117.62L313.05 117.19L314.90 116.93L320.80 116.79" stroke="#ff0000" stroke-width="1.6"/>
</g>
<rect x="238.0" y="10.2" width="75.9" height="59.9" fill="#fff" stroke="#262626" stroke-width="0.8"/>
<path d="M241.4 17.50h27.3" stroke="#00ffff" stroke-width="0.8"/>
<text class="lg" x="271.3" y="20.5">DE/f0</text>
<path d="M241.4 29.20h27.3" stroke="#0000ff" stroke-width="0.8"/>
<text class="lg" x="271.3" y="32.2">TLBO/f0</text>
<path d="M241.4 40.90h27.3" stroke="#00ff00" stroke-width="0.8"/>
<text class="lg" x="271.3" y="43.9">QPSO/f0</text>
<path d="M241.4 52.60h27.3" stroke="#000000" stroke-width="0.8"/>
<text class="lg" x="271.3" y="55.6">DO/f0</text>
<path d="M241.4 64.30h27.3" stroke="#ff0000" stroke-width="1.6"/>
<text class="lg" x="271.3" y="67.3">CENDO/f0</text>
<clipPath id="cb"><rect x="374.35" y="2.3" width="303.15" height="239.7"/></clipPath>
<rect x="374.35" y="3.5" width="303.1" height="238.0" fill="#fff" stroke="#262626" stroke-width="0.8"/>
<path d="M374.35 241.5v-3.0M374.35 3.5v3.0M408.03 241.5v-3.0M408.03 3.5v3.0M441.72 241.5v-3.0M441.72 3.5v3.0M475.40 241.5v-3.0M475.40 3.5v3.0M509.08 241.5v-3.0M509.08 3.5v3.0M542.77 241.5v-3.0M542.77 3.5v3.0M576.45 241.5v-3.0M576.45 3.5v3.0M610.13 241.5v-3.0M610.13 3.5v3.0M643.82 241.5v-3.0M643.82 3.5v3.0M677.50 241.5v-3.0M677.50 3.5v3.0M374.35 3.50h3.0M677.5 3.50h-3.0M374.35 43.17h3.0M677.5 43.17h-3.0M374.35 82.83h3.0M677.5 82.83h-3.0M374.35 122.50h3.0M677.5 122.50h-3.0M374.35 162.17h3.0M677.5 162.17h-3.0M374.35 201.83h3.0M677.5 201.83h-3.0M374.35 241.50h3.0M677.5 241.50h-3.0" stroke="#262626" stroke-width="0.8" fill="none"/>
<g class="tk" text-anchor="middle">
<text transform="translate(374.6 254.9) scale(0.9 1)">0</text>
<text transform="translate(408.2 254.9) scale(0.9 1)">20</text>
<text transform="translate(441.9 254.9) scale(0.9 1)">40</text>
<text transform="translate(475.6 254.9) scale(0.9 1)">60</text>
<text transform="translate(509.3 254.9) scale(0.9 1)">80</text>
<text transform="translate(543.0 254.9) scale(0.9 1)">100</text>
<text transform="translate(576.7 254.9) scale(0.9 1)">120</text>
<text transform="translate(610.3 254.9) scale(0.9 1)">140</text>
<text transform="translate(644.0 254.9) scale(0.9 1)">160</text>
<text transform="translate(677.7 254.9) scale(0.9 1)">180</text>
</g>
<g class="tk" text-anchor="end">
<text transform="translate(369.8 7.25) scale(0.9 1)">0</text>
<text transform="translate(369.8 46.92) scale(0.9 1)">-10</text>
<text transform="translate(369.8 86.58) scale(0.9 1)">-20</text>
<text transform="translate(369.8 126.25) scale(0.9 1)">-30</text>
<text transform="translate(369.8 165.92) scale(0.9 1)">-40</text>
<text transform="translate(369.8 205.58) scale(0.9 1)">-50</text>
<text transform="translate(369.8 245.25) scale(0.9 1)">-60</text>
</g>
<g clip-path="url(#cb)" fill="none" stroke-linejoin="round">
<path d="M374.35 257.37L375.61 257.45L376.96 257.70L378.31 258.12L379.66 258.70L381 259.42L382.43 260.36L383.87 261.45L385.30 262.71L386.56 263.94L387.82 265.30L388.33 265.94L388.83 266.74L389.51 268.06L390.10 269.45L390.69 271.08L391.36 273.23L397.68 273.23L398.01 253.30L398.27 244.23L398.60 238.27L399.19 231.93L399.44 230.10L399.78 228.41L400.54 225.80L401.30 223.69L401.97 222.24L402.64 221.21L402.98 220.86L403.32 220.62L403.65 220.49L403.91 220.51L404.16 220.95L404.41 221.86L404.92 224.91L405.59 231L406.01 236.11L406.35 242.77L406.60 249.81L406.85 259.29L407.11 272.58L407.19 273.23L408.29 273.23L408.37 272.46L408.62 263.66L408.96 256.87L409.38 251.08L409.55 249.87L409.72 249.43L409.89 249.95L410.05 251.38L410.39 256.47L410.73 263.80L410.98 272.92L411.06 273.23L411.91 273.23L411.99 272.17L412.24 252.64L412.50 238.83L413.09 216.71L413.51 205.55L413.93 196.68L414.43 188.16L415.02 180.39L415.61 174.44L416.20 169.98L416.79 166.86L417.80 163.05L419.06 159L419.65 157.46L420.24 156.19L420.83 155.21L421.34 154.63L421.84 154.30L422.10 154.24L422.35 154.26L422.77 154.53L423.19 155.08L423.61 155.88L424.12 157.15L425.04 160.24L426.05 164.53L426.64 167.43L426.98 169.83L427.40 173.95L427.82 179.43L428.24 186.51L428.66 195.59L429.34 216.25L429.84 240.54L430.26 273.23L432.79 273.23L433.72 265.69L434.31 261.74L434.90 258.35L435.40 256.05L435.82 254.63L436.24 253.72L436.50 253.45L436.66 253.40L436.83 253.45L437.09 253.72L437.51 254.63L437.93 256.05L438.43 258.35L439.02 261.74L439.61 265.69L440.12 269.44L440.54 273.20L442.90 273.23L443.23 239.31L443.65 211.36L444.16 190.63L444.75 175.35L445.09 169.40L445.42 165.05L445.67 162.75L446.18 159.51L446.94 155.31L447.70 152.14L448.03 151.13L448.37 150.40L448.71 149.97L448.96 149.87L449.21 149.99L449.55 150.52L449.88 151.43L450.22 152.67L450.90 156.04L451.65 160.96L451.99 163.55L452.33 167.37L452.92 177.82L453.51 194.91L453.93 214.35L454.26 239.65L454.52 273.23L454.85 273.23L455.11 251.29L455.36 236.33L455.70 224.06L456.20 212.73L456.79 204.67L457.21 200.77L457.80 196.14L458.22 193.47L458.64 191.47L459.06 190.25L459.23 190.02L459.40 189.93L459.57 190.04L459.74 190.33L460.07 191.46L460.41 193.21L460.75 195.51L461.59 203.11L462.01 209.31L462.43 219.16L462.85 234.81L463.11 249.58L463.36 273.23L463.86 273.23L464.12 250.86L464.37 236.42L464.79 220.94L465.30 209.17L465.88 200.66L466.14 198.26L466.81 193.11L467.32 189.95L467.82 187.61L468.24 186.40L468.49 186.04L468.66 185.97L468.83 186.04L469 186.25L469.42 187.31L469.84 189.07L470.26 191.44L471.27 198.98L471.61 202.64L471.86 206.26L472.45 218.56L472.87 232.66L473.21 250.81L473.46 273.23L473.97 273.23L474.22 250.06L474.56 231.42L475.06 214.39L475.65 201.96L475.99 196.98L476.41 192.36L476.75 189.73L477.42 185.34L478.01 182.15L478.60 179.77L479.11 178.49L479.36 178.15L479.61 178.03L479.78 178.11L480.03 178.47L480.45 179.68L480.87 181.57L481.38 184.60L481.97 188.96L482.39 192.70L482.98 200.96L483.48 212.30L483.91 227.28L484.24 247.69L484.49 273.23L484.83 273.23L485.08 244.96L485.34 227.36L485.76 209.15L486.26 195.55L486.85 185.83L487.10 183.12L487.69 178.44L488.28 174.56L488.79 172.07L489.29 170.53L489.55 170.17L489.72 170.10L489.88 170.20L490.14 170.72L490.56 172.43L490.98 175.05L491.48 179.19L491.90 183.24L492.24 187.29L492.58 192.73L492.83 198.19L493.17 208.60L493.42 220.87L493.67 243.07L493.84 273.23L494.01 273.23L494.18 231.17L494.35 209.10L494.60 188.41L494.94 171.40L495.27 161.12L495.69 154.47L496.12 149.76L496.45 146.88L496.79 145L496.96 144.49L497.13 144.32L497.29 144.49L497.46 145L497.88 147.51L498.30 151.52L498.73 156.61L499.15 164.44L499.48 175.08L499.74 187.30L499.99 207.04L500.16 231.54L500.33 273.23L500.49 230.91L500.66 205.83L500.92 185.28L501.25 168.91L501.67 156.35L501.93 151.38L502.18 147.88L502.68 142.62L503.19 138.55L503.61 136.38L503.86 135.72L504.03 135.59L504.28 135.79L504.54 136.35L505.04 138.43L505.63 142.22L506.30 147.88L506.64 151.71L506.89 155.68L507.40 167.27L507.82 182.88L508.16 204.09L508.33 222.40L508.58 273.23L508.83 222.49L509 204.24L509.34 183.11L509.76 167.58L510.26 156.05L510.51 152.10L510.85 148.28L511.53 142.61L512.11 138.82L512.62 136.74L512.87 136.18L513.13 135.99L513.46 136.08L513.88 136.46L514.22 136.94L514.64 137.73L515.57 140.10L517.25 145.44L517.93 147.34L518.26 148.09L518.60 148.66L518.94 149L519.19 149.08L519.44 149.01L519.78 148.75L520.11 148.29L520.45 147.69L521.21 145.91L522.98 141L523.82 138.94L524.66 137.38L525.08 136.84L525.50 136.50L525.92 136.38L526.43 136.55L526.94 137.03L527.52 137.93L528.03 138.94L528.62 140.34L530.56 145.69L531.23 147.34L531.90 148.54L532.24 148.90L532.58 149.07L532.83 149.04L533.17 148.76L533.50 148.25L533.84 147.54L534.51 145.70L536.54 139.38L537.12 137.91L537.71 136.80L538.05 136.36L538.30 136.14L538.56 136.01L538.81 136.01L538.98 136.18L539.15 136.52L539.57 138L539.99 140.28L540.49 143.92L541.08 149.09L541.34 152.10L541.67 157.61L541.92 163.10L542.35 175.97L542.68 192.14L542.94 212.23L543.27 273.23L543.52 222.40L543.69 204.09L544.03 182.88L544.45 167.27L544.96 155.68L545.21 151.71L545.55 147.88L546.22 142.22L546.81 138.43L547.31 136.35L547.57 135.79L547.82 135.59L547.99 135.72L548.24 136.38L548.66 138.55L549.17 142.62L549.67 147.88L549.92 151.38L550.18 156.35L550.60 168.91L550.93 185.28L551.19 205.83L551.36 230.91L551.52 273.23L551.69 231.54L551.86 207.04L552.11 187.30L552.37 175.08L552.70 164.44L553.12 156.61L553.55 151.52L553.97 147.51L554.39 145L554.56 144.49L554.72 144.32L554.89 144.49L555.06 145L555.40 146.88L555.73 149.76L556.16 154.47L556.58 161.12L556.91 171.40L557.25 188.41L557.50 209.10L557.67 231.17L557.84 273.23L558.01 273.23L558.18 243.07L558.43 220.87L558.68 208.60L559.02 198.19L559.27 192.73L559.61 187.29L559.95 183.24L560.37 179.19L560.87 175.05L561.29 172.43L561.71 170.72L561.97 170.20L562.13 170.10L562.30 170.17L562.56 170.53L563.06 172.07L563.57 174.56L564.16 178.44L564.75 183.12L565 185.83L565.59 195.55L566.09 209.15L566.51 227.36L566.77 244.96L567.02 273.23L567.36 273.23L567.61 247.69L567.94 227.28L568.37 212.30L568.87 200.96L569.46 192.70L569.88 188.96L570.47 184.60L570.98 181.57L571.40 179.68L571.82 178.47L572.07 178.11L572.24 178.03L572.49 178.15L572.74 178.49L573.25 179.77L573.84 182.15L574.43 185.34L575.10 189.73L575.44 192.36L575.86 196.98L576.20 201.96L576.79 214.39L577.29 231.42L577.63 250.06L577.88 273.23L578.39 273.23L578.64 250.81L578.98 232.66L579.40 218.56L579.99 206.26L580.24 202.64L580.58 198.98L581.59 191.44L582.01 189.07L582.43 187.31L582.85 186.25L583.02 186.04L583.19 185.97L583.36 186.04L583.61 186.40L584.03 187.61L584.53 189.95L585.04 193.11L585.71 198.26L585.97 200.66L586.55 209.17L587.06 220.94L587.48 236.42L587.73 250.86L587.99 273.23L588.49 273.23L588.74 249.58L589 234.81L589.42 219.16L589.84 209.31L590.26 203.11L591.10 195.51L591.44 193.21L591.78 191.46L592.11 190.33L592.28 190.04L592.45 189.93L592.62 190.02L592.79 190.25L593.21 191.47L593.63 193.47L594.05 196.14L594.64 200.77L595.06 204.67L595.65 212.73L596.15 224.06L596.49 236.33L596.74 251.29L597 273.23L597.33 273.23L597.59 239.65L597.92 214.35L598.34 194.91L598.93 177.82L599.52 167.37L599.86 163.55L600.20 160.96L600.95 156.04L601.63 152.67L601.97 151.43L602.30 150.52L602.64 149.99L602.89 149.87L603.14 149.97L603.48 150.40L603.82 151.13L604.15 152.14L604.91 155.31L605.67 159.51L606.18 162.75L606.43 165.05L606.76 169.40L607.10 175.35L607.69 190.63L608.20 211.36L608.62 239.31L608.95 273.23L611.31 273.20L611.73 269.44L612.24 265.69L612.83 261.74L613.42 258.35L613.92 256.05L614.34 254.63L614.76 253.72L615.02 253.45L615.19 253.40L615.35 253.45L615.61 253.72L616.03 254.63L616.45 256.05L616.95 258.35L617.54 261.74L618.13 265.69L619.06 273.23L621.59 273.23L622.01 240.54L622.51 216.25L623.19 195.59L623.61 186.51L624.03 179.43L624.45 173.95L624.87 169.83L625.21 167.43L625.80 164.53L626.81 160.24L627.73 157.15L628.24 155.88L628.66 155.08L629.08 154.53L629.50 154.26L629.75 154.24L630.01 154.30L630.51 154.63L631.02 155.21L631.61 156.19L632.20 157.46L632.79 159L634.05 163.05L635.06 166.86L635.65 169.98L636.24 174.44L636.83 180.39L637.42 188.16L637.92 196.68L638.34 205.55L638.76 216.71L639.35 238.83L639.61 252.64L639.86 272.17L639.94 273.23L640.79 273.23L640.87 272.92L641.12 263.80L641.46 256.47L641.80 251.38L641.96 249.95L642.13 249.43L642.30 249.87L642.47 251.08L642.89 256.87L643.23 263.66L643.48 272.46L643.56 273.23L644.66 273.23L644.74 272.58L645 259.29L645.25 249.81L645.50 242.77L645.84 236.11L646.26 231L646.93 224.91L647.44 221.86L647.69 220.95L647.94 220.51L648.20 220.49L648.53 220.62L648.87 220.86L649.21 221.21L649.88 222.24L650.55 223.69L651.31 225.80L652.07 228.41L652.41 230.10L652.66 231.93L653.25 238.27L653.58 244.23L653.84 253.30L654.17 273.23L660.49 273.23L661.16 271.08L661.75 269.45L662.34 268.06L663.02 266.74L663.52 265.94L664.03 265.30L665.29 263.94L666.55 262.71L667.98 261.45L669.42 260.36L670.85 259.42L672.19 258.70L673.54 258.12L674.89 257.70L676.24 257.45L677.50 257.37" stroke="#00ffff" stroke-width="0.8"/>
<path d="M374.35 162.56L383.87 162.62L392.37 162.80L397.09 162.97L397.76 163.08L398.43 163.28L399.11 163.57L399.87 164L401.47 165.21L403.15 166.84L405.17 169.11L406.18 170.45L407.11 171.99L407.86 173.56L408.62 175.50L409.21 177.35L409.80 179.58L410.39 182.98L410.73 185.77L411.06 189.36L411.32 192.82L411.49 196.40L411.82 207.86L412.08 221.52L412.33 242.71L412.58 273.23L413 273.23L413.09 271.50L413.42 251.38L413.84 239.49L414.18 233.71L414.52 229.17L414.85 226.34L415.02 225.72L415.11 225.63L415.28 225.91L415.44 226.71L415.78 229.62L416.20 235.24L416.54 241.31L416.88 252.53L417.21 273.23L418.05 273.23L418.39 254.53L418.64 244.45L419.06 232.74L419.49 224.89L419.99 218.88L420.92 211.66L421.34 209.24L421.68 207.82L422.01 206.91L422.18 206.68L422.35 206.59L422.60 206.78L422.94 207.54L423.28 208.84L423.61 210.61L424.45 216.71L425.04 222.49L425.55 230.77L425.97 241.36L426.31 253.99L426.64 273.23L427.49 273.23L427.82 251.92L428.33 232.89L428.92 218.79L429.25 212.87L429.67 206.96L430.10 202.34L430.60 198.21L431.19 194.86L431.95 191.13L432.71 188.06L433.38 186.03L433.72 185.29L434.05 184.76L434.39 184.45L434.64 184.38L434.90 184.48L435.23 184.91L435.82 186.37L436.41 188.64L437.09 192.05L437.84 196.67L438.18 199.17L438.60 203.28L439.02 208.74L439.61 219.59L440.12 234.10L440.45 249.54L440.79 273.23L441.30 273.23L441.55 250.10L441.89 230.64L442.31 215.62L442.73 205.98L443.15 199.90L444.07 191.95L444.41 189.80L444.75 188.17L445.09 187.13L445.25 186.86L445.42 186.76L445.59 186.83L445.84 187.19L446.26 188.41L446.68 190.29L447.19 193.32L448.12 200.59L448.45 204.74L448.71 208.86L449.21 220.47L449.63 235.47L449.88 248.84L450.22 273.23L450.73 273.23L450.81 271.47L451.06 251.93L451.32 239.67L451.65 228.57L452.07 219.44L452.50 213.73L453.34 206.14L453.93 202.71L454.26 201.68L454.52 201.44L454.77 201.68L455.11 202.71L455.70 206.14L456.54 213.73L456.96 219.50L457.38 228.81L457.72 240.13L457.97 252.60L458.22 272.41L458.31 273.23L458.81 273.23L458.90 271.53L459.15 251.08L459.48 234.46L459.91 221L460.33 211.90L460.58 207.85L460.92 203.76L461.84 196.50L462.35 193.47L462.77 191.58L463.19 190.37L463.44 190.01L463.61 189.93L463.78 190.04L463.95 190.33L464.28 191.46L464.62 193.21L465.04 196.16L465.88 204.02L466.39 211.45L466.81 221.21L467.15 233.54L467.40 248.57L467.65 273.23L467.99 273.23L468.16 245.89L468.33 229.10L468.66 207.84L469 194.68L469.42 184.78L469.93 178.62L470.35 174.63L470.68 172.22L471.02 170.66L471.19 170.24L471.36 170.10L471.53 170.21L471.69 170.53L472.12 172.16L472.45 174.20L472.87 177.53L473.55 184.49L473.97 193.19L474.31 204.43L474.64 221.37L474.89 240.59L475.15 272.45L475.23 273.23L475.74 273.23L476.16 251.67L476.49 240.80L477.08 229.04L477.42 224.47L477.84 220.01L478.35 215.87L478.94 212.07L479.86 207.19L480.71 203.36L481.38 200.87L482.05 198.99L482.39 198.31L482.73 197.82L483.06 197.54L483.32 197.47L483.48 197.67L483.74 198.63L484.24 202.59L484.92 210.98L485.25 217.64L485.59 228.28L485.84 241.02L486.18 273.23L486.52 273.23L486.68 247.21L487.02 219.23L487.36 202.53L487.86 186.49L488.37 176.60L488.62 173.32L489.04 169.58L489.63 165.21L490.22 161.87L490.73 160.05L490.98 159.56L491.23 159.39L491.48 159.54L491.74 159.97L491.99 160.66L492.33 161.93L493 165.57L493.67 170.36L494.09 173.98L494.43 178.06L495.02 188.69L495.53 203.47L495.86 219.32L496.12 239.04L496.37 273.23L496.54 273.23L496.79 236.95L497.04 216.36L497.38 200.11L497.80 188.02L498.05 183.51L498.64 176.66L499.06 173L499.48 170.72L499.65 170.26L499.82 170.10L499.99 170.26L500.16 170.72L500.49 172.43L500.92 175.84L501.50 182.39L501.84 187.59L502.18 195.48L502.43 204.15L502.68 217.07L502.85 230.45L503.10 273.23L503.27 273.23L503.53 225.10L503.86 197.76L504.12 184.66L504.45 171.67L504.79 161.73L505.21 152.05L505.63 144.50L506.14 137.49L506.64 132.27L507.15 128.57L508.33 122.88L509.34 119.03L509.84 117.55L510.26 116.59L510.77 115.78L511.19 115.42L511.44 115.36L511.61 115.40L512.03 115.79L512.45 116.59L512.96 118.01L513.38 119.55L513.88 121.76L514.98 127.65L515.48 131.53L515.90 136.27L516.33 142.58L516.66 149.04L517.08 159.46L517.42 170.53L517.93 195.81L518.26 228.65L518.43 268.73L518.51 273.23L518.60 270.13L518.68 246.43L518.85 223.01L519.10 204.63L519.36 193.53L519.78 182.22L520.28 174.70L520.62 170.86L520.96 167.94L521.29 166.17L521.46 165.79L521.55 165.74L521.80 165.86L522.14 166.36L522.73 168.04L523.40 170.91L525 179.03L525.42 180.49L525.67 181.02L525.84 181.19L526.01 181.19L526.26 180.88L526.51 180.25L526.77 179.37L527.19 177.48L528.70 169.74L529.21 167.74L529.71 166.36L529.97 165.95L530.14 165.79L530.30 165.74L530.47 165.93L530.81 167.38L531.15 170.03L531.65 175.78L532.07 182.22L532.41 190.70L532.66 200.40L533 223.01L533.17 246.43L533.25 270.13L533.34 273.23L533.42 268.73L533.59 228.65L533.92 195.81L534.43 170.53L534.77 159.46L535.10 150.89L535.44 144.07L535.86 137.39L536.28 132.36L536.70 128.74L537.63 123.44L538.56 119.21L538.98 117.74L539.40 116.59L539.82 115.79L540.16 115.44L540.32 115.37L540.58 115.39L540.83 115.53L541.08 115.78L541.59 116.59L542.18 118.01L542.68 119.59L543.27 121.82L544.62 128.09L545.12 131.56L545.63 136.51L546.05 141.94L546.47 148.81L546.98 159.59L547.40 171.67L547.73 184.66L547.99 197.76L548.32 225.10L548.58 273.23L548.75 273.23L549 230.45L549.17 217.07L549.42 204.15L549.67 195.48L550.01 187.59L550.35 182.39L550.93 175.84L551.36 172.43L551.69 170.72L551.86 170.26L552.03 170.10L552.20 170.26L552.37 170.72L552.79 173L553.21 176.66L553.80 183.51L554.05 188.02L554.47 200.11L554.81 216.36L555.06 236.95L555.31 273.23L555.48 273.23L555.73 239.04L555.99 219.32L556.32 203.47L556.83 188.69L557.42 178.06L557.67 174.89L558.01 171.68L558.77 166.12L559.36 162.71L559.95 160.40L560.20 159.80L560.45 159.46L560.70 159.41L560.87 159.56L561.12 160.05L561.38 160.83L561.88 163.15L562.47 166.98L563.06 171.68L563.31 174.30L563.65 179.37L563.90 184.49L564.41 199.27L564.83 219.23L565.17 247.21L565.33 273.23L565.67 273.23L566.01 241.02L566.26 228.28L566.60 217.64L566.93 210.98L567.61 202.59L568.11 198.63L568.37 197.67L568.53 197.47L568.79 197.54L569.12 197.82L569.46 198.31L569.80 198.99L570.47 200.87L571.14 203.36L571.99 207.19L572.91 212.07L573.50 215.87L574.01 220.01L574.43 224.47L574.77 229.04L575.36 240.80L575.69 251.67L576.11 273.23L576.62 273.23L576.70 272.45L576.96 240.59L577.21 221.37L577.54 204.43L577.88 193.19L578.30 184.49L578.89 178.29L579.31 174.80L579.65 172.61L580.07 170.77L580.24 170.35L580.41 170.13L580.58 170.14L580.74 170.42L581.08 171.75L581.42 173.95L581.84 177.75L582.43 184.78L582.85 194.68L583.19 207.84L583.52 229.10L583.69 245.89L583.86 273.23L584.20 273.23L584.45 248.57L584.70 233.54L585.04 221.21L585.46 211.45L585.97 204.02L586.81 196.16L587.23 193.21L587.57 191.46L587.90 190.33L588.07 190.04L588.24 189.93L588.41 190.01L588.66 190.37L589.08 191.58L589.50 193.47L590.01 196.50L590.93 203.76L591.27 207.85L591.52 211.90L591.94 221L592.37 234.46L592.70 251.08L592.95 271.53L593.04 273.23L593.54 273.23L593.63 272.41L593.88 252.60L594.13 240.13L594.47 228.81L594.89 219.50L595.31 213.73L596.15 206.14L596.74 202.71L597.08 201.68L597.33 201.44L597.59 201.68L597.92 202.71L598.51 206.14L599.35 213.73L599.78 219.44L600.20 228.57L600.53 239.67L600.79 251.93L601.04 271.47L601.12 273.23L601.63 273.23L601.97 248.84L602.22 235.47L602.64 220.47L603.14 208.86L603.40 204.74L603.73 200.59L604.66 193.32L605.17 190.29L605.59 188.41L606.01 187.19L606.26 186.83L606.43 186.76L606.60 186.86L606.76 187.13L607.10 188.17L607.44 189.80L607.78 191.95L608.70 199.90L609.12 205.98L609.54 215.62L609.96 230.64L610.30 250.10L610.55 273.23L611.06 273.23L611.40 249.54L611.73 234.10L612.24 219.59L612.83 208.74L613.25 203.28L613.67 199.17L614.01 196.67L614.76 192.05L615.44 188.64L616.03 186.37L616.62 184.91L616.95 184.48L617.21 184.38L617.46 184.45L617.80 184.76L618.13 185.29L618.47 186.03L619.14 188.06L619.90 191.13L620.66 194.86L621.25 198.21L621.75 202.34L622.18 206.96L622.60 212.87L622.93 218.79L623.52 232.89L624.03 251.92L624.36 273.23L625.21 273.23L625.54 253.99L625.88 241.36L626.30 230.77L626.81 222.49L627.40 216.71L628.24 210.61L628.57 208.84L628.91 207.54L629.25 206.78L629.50 206.59L629.67 206.68L629.84 206.91L630.17 207.82L630.51 209.24L630.93 211.66L631.86 218.88L632.36 224.89L632.79 232.74L633.21 244.45L633.46 254.53L633.80 273.23L634.64 273.23L634.97 252.53L635.31 241.31L635.65 235.24L636.07 229.62L636.41 226.71L636.57 225.91L636.74 225.63L636.83 225.72L637 226.34L637.33 229.17L637.67 233.71L638.01 239.49L638.43 251.38L638.76 271.50L638.85 273.23L639.27 273.23L639.52 242.71L639.77 221.52L640.03 207.86L640.36 196.40L640.53 192.82L640.79 189.36L641.12 185.77L641.46 182.98L642.05 179.58L642.64 177.35L643.23 175.50L643.99 173.56L644.74 171.99L645.67 170.45L646.68 169.11L648.70 166.84L650.38 165.21L651.98 164L652.74 163.57L653.42 163.28L654.09 163.08L654.76 162.97L659.48 162.80L667.98 162.62L677.50 162.56" stroke="#00ff00" stroke-width="0.8"/>
<path d="M374.35 193.50L378.64 193.42L380.16 193.28L382.43 192.82L383.19 192.53L384.03 192.09L386.14 190.73L387.07 190.05L388.41 188.88L390.10 187.24L391.36 185.85L399.19 176.47L400.12 175.54L401.80 174.18L402.48 173.72L403.07 173.43L403.65 173.28L404.08 173.31L404.50 173.54L404.92 173.95L405.34 174.54L405.84 175.46L406.77 177.70L407.70 180.56L409.04 185.56L409.63 188.21L410.22 191.58L410.81 195.82L411.32 200.35L411.74 204.96L412.16 210.59L412.58 217.68L413.17 231.78L413.59 248.03L413.93 271.56L414.01 273.23L414.52 273.23L414.94 241.86L415.44 219.66L415.78 209.51L416.20 199.63L416.71 190.48L417.21 183.40L417.72 177.88L418.31 173.04L418.81 170.09L419.65 166.43L420.75 162.36L421.68 159.73L422.18 158.68L422.60 158.02L423.11 157.54L423.53 157.41L423.86 157.55L424.29 158.08L424.62 158.77L425.04 159.94L425.89 163.16L426.81 167.81L427.40 171.29L427.91 175.43L428.33 180.02L428.75 185.92L429.42 199.43L429.93 215.68L430.35 239.89L430.60 271.77L430.69 273.23L430.85 273.23L430.94 271.06L431.19 238.21L431.53 216.56L431.78 205.80L432.12 195.01L432.45 186.71L432.87 178.62L433.21 173.46L433.63 168.26L434.05 164.21L434.56 160.64L435.65 155.13L436.58 151.42L437.09 149.89L437.51 148.92L437.93 148.25L438.35 147.92L438.52 147.89L438.77 147.94L439.27 148.37L439.70 149.04L440.20 150.18L440.62 151.41L441.13 153.21L442.14 157.81L442.90 162.13L443.65 167.15L445.76 183.36L446.43 188.06L450.05 206.25L451.48 213.80L452.58 220.19L454.43 232.12L454.77 234.82L455.11 238.60L455.61 247.42L455.95 257.19L456.28 273.23L456.96 273.23L457.30 239.87L457.72 214.01L458.22 194.80L458.56 185.86L458.90 179.03L459.23 173.89L459.57 170.22L460.58 163.56L461.17 160.52L461.76 158.26L462.26 157.05L462.52 156.72L462.77 156.61L463.02 156.75L463.27 157.16L463.53 157.80L463.86 159.01L464.45 161.95L465.13 166.38L465.63 170.31L465.97 173.84L466.31 178.50L466.64 184.59L467.15 197.78L467.57 216.12L467.82 235.43L468.07 273.23L468.24 273.23L468.49 232.81L468.75 211.86L469.25 188.18L469.84 172.03L470.18 165.62L470.52 160.64L470.85 156.82L471.19 154.03L472.03 148.68L472.79 144.92L473.21 143.38L473.55 142.50L473.88 141.93L474.05 141.79L474.22 141.74L474.39 141.77L474.64 141.94L475.06 142.53L475.48 143.46L475.99 144.98L476.92 148.77L478.01 154.52L478.52 158.25L478.94 162.51L479.36 168.01L479.69 173.52L480.12 182.29L480.45 191.49L480.96 212.07L481.29 237.18L481.55 273.23L481.72 273.23L482.05 230.04L482.47 205.53L482.73 196.29L483.06 186.98L483.40 179.85L483.82 173L484.33 166.94L484.92 162.16L486.09 155.46L486.60 153.24L487.10 151.52L487.53 150.52L487.86 150.04L488.20 149.87L488.45 150.07L488.70 150.63L489.04 151.88L489.72 155.88L490.56 162.96L491.06 169.50L491.57 180.01L491.90 190.76L492.16 202.60L492.41 221.56L492.58 245.30L492.66 269.14L492.75 273.23L492.83 267.77L493 227.61L493.17 208.13L493.50 185.19L493.93 168.27L494.35 157.67L494.60 153.34L494.85 150.26L495.53 144.20L496.03 140.75L496.28 139.49L496.54 138.59L496.79 138.07L496.96 137.97L497.13 138.08L497.38 138.64L497.63 139.62L497.88 140.97L498.39 144.68L498.98 150.26L499.48 157.67L499.99 170.83L500.41 189.92L500.66 210.06L501 273.23L501.25 220.17L501.42 201.80L501.84 176.97L502.09 168L502.43 159.58L502.77 154.05L503.44 147L504.03 142.69L504.28 141.54L504.54 140.88L504.62 140.78L504.79 140.77L505.04 141.18L505.29 142.02L505.55 143.26L506.14 147.45L506.81 153.95L507.23 160.16L507.57 167.62L507.90 178.47L508.16 190.49L508.49 219.69L508.75 273.23L509.08 206.41L509.42 180.11L509.84 161.74L510.35 148.49L510.85 140.80L511.44 135.44L512.03 131.19L512.54 128.75L512.79 128.03L513.04 127.68L513.29 127.72L513.63 128.21L513.88 128.86L514.22 130.08L514.81 133.08L515.48 137.62L517.17 151.12L517.76 157.64L518.94 172.97L519.27 175.73L519.44 176.36L519.53 176.45L519.61 176.36L519.78 175.71L520.11 172.87L521.38 156.38L522.05 149.55L523.31 140.32L523.99 135.93L524.66 132.49L525.25 130.50L525.59 129.86L525.76 129.70L525.92 129.64L526.09 129.70L526.26 129.86L526.60 130.50L526.94 131.51L527.36 133.24L528.20 138.02L529.97 151L530.56 157.41L531.74 172.87L532.07 175.71L532.24 176.36L532.32 176.45L532.41 176.36L532.58 175.73L532.91 172.97L534.09 157.64L534.68 151.12L536.20 138.89L536.87 134.11L537.63 130.08L538.05 128.62L538.39 127.91L538.56 127.72L538.72 127.66L538.98 127.87L539.23 128.47L539.57 129.82L539.99 132.27L540.49 136.14L541 140.80L541.25 144.07L541.76 154.26L542.18 167.98L542.51 185.21L542.77 206.41L543.10 273.23L543.27 233.72L543.44 209.73L543.69 190.49L544.11 172.50L544.62 160.16L545.12 153.04L545.63 148.18L546.13 144.28L546.64 141.70L546.89 140.99L547.06 140.77L547.23 140.78L547.48 141.26L547.90 143.17L548.32 146.26L548.83 151.19L549.17 155.20L549.42 159.58L549.84 170.68L550.26 189.67L550.51 209.85L550.85 273.23L551.19 210.06L551.44 189.92L551.86 170.83L552.28 159.40L552.79 151.18L553.38 145.40L553.88 141.50L554.39 138.92L554.64 138.22L554.81 138L554.89 137.97L555.06 138.07L555.31 138.59L555.57 139.49L555.82 140.75L556.32 144.20L556.91 149.44L557.17 152.18L557.42 156.08L557.92 168.27L558.35 185.19L558.68 208.13L558.85 227.61L559.02 267.77L559.10 273.23L559.19 269.14L559.36 231.39L559.52 213.96L559.78 198.13L560.20 182.33L560.70 170.92L560.96 166.96L561.29 162.96L561.97 157.14L562.56 153.16L563.06 150.89L563.31 150.21L563.57 149.89L563.73 149.88L563.90 149.97L564.24 150.37L564.58 151.07L565 152.31L565.76 155.46L566.68 160.59L567.19 163.94L567.61 167.82L568.03 173L568.45 179.85L569.04 193.70L569.54 213.43L569.88 237.90L570.13 273.23L570.30 273.23L570.56 237.18L570.72 222.56L570.98 207.76L571.48 188.96L572.16 173.52L572.49 168.01L572.91 162.51L573.33 158.25L573.84 154.52L574.85 149.17L575.69 145.58L576.11 144.16L576.53 143.05L576.96 142.25L577.29 141.87L577.63 141.74L577.80 141.79L577.97 141.93L578.30 142.50L578.64 143.38L579.31 146.04L580.07 150.18L580.74 154.63L581.08 157.67L581.50 162.97L581.92 170.27L582.26 178.01L582.60 188.18L583.10 211.86L583.36 232.81L583.61 273.23L583.78 273.23L584.03 235.43L584.28 216.12L584.62 200.71L585.12 186.39L585.71 176.02L586.05 171.95L586.39 168.90L587.14 163.50L587.73 160.15L588.32 157.80L588.66 157L588.91 156.68L589.17 156.63L589.42 156.81L589.67 157.20L590.01 158.01L590.60 160.15L591.27 163.56L592.11 168.90L592.37 171.01L592.70 175.04L593.04 180.57L593.38 187.88L593.71 197.44L594.22 218.20L594.55 239.87L594.89 273.23L595.57 273.23L595.90 257.19L596.24 247.42L596.74 238.60L597.08 234.82L597.42 232.12L599.27 220.19L600.37 213.80L601.80 206.25L605.42 188.06L606.09 183.36L608.11 167.75L608.87 162.66L609.54 158.71L610.39 154.59L611.14 151.69L611.56 150.41L611.99 149.38L612.41 148.61L612.74 148.19L613.16 147.91L613.42 147.89L613.59 147.96L613.92 148.25L614.34 148.92L614.76 149.89L615.27 151.42L616.20 155.13L617.21 160.18L617.71 163.52L618.30 169.20L618.81 175.91L619.23 183.22L619.65 192.74L620.24 212.63L620.66 238.21L620.91 271.06L621 273.23L621.16 273.23L621.25 271.77L621.50 239.89L621.92 215.68L622.43 199.43L623.02 187.30L623.35 182.21L623.78 177.13L624.20 173.19L624.62 170.19L625.54 165.15L626.30 161.74L627.06 159.20L627.40 158.40L627.73 157.82L628.15 157.44L628.32 157.41L628.57 157.45L629 157.74L629.50 158.39L630.01 159.35L630.51 160.59L631.52 163.82L632.70 168.58L633.37 171.94L633.96 176.33L634.55 182.38L635.06 189.17L635.56 197.92L635.99 207.32L636.32 216.88L636.66 229.32L636.91 241.86L637.33 273.23L637.84 273.23L637.92 271.56L638.26 248.03L638.76 229.32L639.10 221.09L639.44 214.63L639.86 208.19L640.28 203.01L640.70 198.73L641.21 194.51L641.80 190.54L642.39 187.39L643.31 183.60L644.32 180L645.25 177.24L646.09 175.29L646.51 174.54L646.93 173.95L647.35 173.54L647.77 173.31L648.20 173.28L648.78 173.43L649.37 173.72L650.13 174.25L651.73 175.54L652.66 176.47L660.49 185.85L661.67 187.16L663.35 188.80L664.70 189.98L665.63 190.67L667.82 192.09L668.66 192.53L669.42 192.82L671.69 193.28L673.21 193.42L677.50 193.50" stroke="#0000ff" stroke-width="0.8"/>
<path d="M374.35 142.33L379.23 142.37L384.96 142.80L386.31 142.95L387.40 143.27L388.58 143.81L389.84 144.53L390.85 145.32L392.45 146.99L394.05 149L395.40 151.15L397 154.13L398.60 157.45L399.87 160.50L401.04 163.88L401.97 167.18L403.23 172.78L404.58 179.39L405.09 182.32L405.42 184.82L405.76 188.07L406.18 194.54L406.69 207.62L407.02 221.83L407.36 246.64L407.53 271.26L407.61 273.23L407.78 273.23L407.86 270.85L408.12 237.86L408.37 220.90L408.62 209.75L408.88 201.86L409.13 196.20L409.46 191.31L409.89 187.33L410.39 183.87L411.40 178.10L413.17 168.83L414.85 161.34L415.70 158.09L416.54 155.15L417.38 152.50L418.31 149.92L419.23 147.67L420.16 145.76L421.09 144.17L422.01 142.90L422.94 141.96L423.78 141.41L424.29 141.22L424.79 141.14L425.55 141.19L426.31 141.35L426.98 141.58L427.74 141.95L429.17 142.94L430.52 144.23L431.86 145.89L433.21 147.93L434.47 150.24L435.65 152.78L436.83 155.74L437.93 158.93L438.94 162.33L439.86 165.90L440.79 170.03L441.55 173.91L442.31 178.37L442.90 182.73L443.32 187.84L443.65 194.37L443.82 200.65L444.16 224.52L444.50 273.23L444.75 273.23L445.09 239.23L445.51 220.06L445.76 212.78L446.10 205.48L446.52 198.70L446.94 193.57L447.53 188.11L448.28 182.94L449.13 178.61L450.39 173.44L451.57 169.36L452.16 167.68L452.66 166.48L453.17 165.50L453.67 164.77L454.18 164.31L454.68 164.15L455.02 164.31L455.36 164.77L455.70 165.50L456.03 166.48L456.79 169.49L457.55 173.44L458.22 177.53L458.73 181.59L459.15 186.07L459.57 191.88L460.16 203.55L460.66 220.02L461 239.60L461.25 270.70L461.34 273.23L461.51 273.23L461.84 233.29L462.10 214.63L462.60 191.84L463.19 175.69L463.78 165.33L464.12 161.21L464.45 158.19L465.30 152.86L466.05 149.02L466.47 147.40L466.81 146.41L467.15 145.72L467.48 145.36L467.65 145.31L467.82 145.35L468.24 145.81L468.58 146.51L469 147.75L469.84 151.32L470.77 156.55L471.27 160.09L471.69 164.34L472.12 170.05L472.45 175.94L473.04 190.40L473.55 210.85L473.88 235.94L474.14 273.23L474.31 273.23L474.56 235.60L474.73 221.19L474.98 207.16L475.23 197.90L475.48 191.63L476.16 182.14L476.49 178.90L476.83 176.93L477 176.50L477.08 176.45L477.25 176.62L477.42 177.13L477.84 179.64L478.26 183.65L478.77 189.91L479.02 194.47L479.36 203.63L479.69 218.45L479.95 237.63L480.20 273.23L480.37 273.23L480.62 234.92L480.87 213.84L481.29 193.23L481.80 178.16L482.39 167.28L482.73 163.26L483.06 160.44L483.74 155.66L484.41 152.02L484.75 150.74L485 150.05L485.25 149.62L485.50 149.47L485.84 149.61L486.26 150.12L486.68 150.98L487.10 152.16L488.03 155.73L489.04 160.83L489.55 163.91L490.05 168.20L490.47 172.92L490.89 178.96L491.32 186.81L491.65 194.98L492.16 212.94L492.49 233.66L492.83 273.23L493 273.23L493.25 240.45L493.59 215.24L494.09 194.60L494.43 185.44L494.77 178.33L495.44 168.12L495.86 163.73L496.28 160.57L497.29 154.85L498.14 151.19L498.56 149.85L498.89 149.06L499.32 148.44L499.65 148.28L499.90 148.47L500.16 148.99L500.66 150.93L501.25 154.49L501.93 159.84L502.26 163.16L502.60 167.85L503.10 178.32L503.61 195.74L503.95 216.39L504.12 234.35L504.28 272.67L504.37 273.23L504.45 272.16L504.62 232.94L504.87 207.52L505.21 188.69L505.55 176.72L506.05 165.45L506.56 159.27L507.06 154.69L507.57 151.19L507.99 149.35L508.24 148.79L508.41 148.68L508.66 148.77L508.91 149.03L509.17 149.46L509.50 150.25L510.09 152.21L510.77 155.24L511.53 159.44L512.03 162.74L512.45 166.69L512.79 170.86L513.21 177.59L513.63 186.52L513.97 195.97L514.30 208.74L514.73 234.70L515.06 273.23L515.23 273.23L515.31 267.75L515.48 244.71L515.65 233.96L515.90 225.20L516.07 222.10L516.16 221.67L516.24 221.99L516.41 224.32L516.75 233.96L517 249.24L517.17 272.28L517.25 273.23L517.42 273.23L517.50 271.31L517.76 237.85L518.18 211.40L518.51 198.20L518.85 188.26L519.27 178.65L519.69 171.13L520.11 165.14L520.62 159.50L521.13 155.26L521.63 152.24L522.89 146.62L523.48 144.44L523.99 142.87L524.49 141.60L525 140.67L525.50 140.11L525.92 139.95L526.35 140.11L526.85 140.67L527.36 141.60L527.86 142.87L528.37 144.44L528.96 146.62L530.22 152.24L530.72 155.26L531.23 159.50L531.74 165.14L532.16 171.13L532.58 178.65L533 188.26L533.34 198.20L533.67 211.40L534.09 237.85L534.35 271.31L534.43 273.23L534.60 273.23L534.68 272.28L534.85 249.24L535.10 233.96L535.44 224.32L535.61 221.99L535.69 221.67L535.78 222.10L535.95 225.20L536.20 233.96L536.37 244.71L536.54 267.75L536.62 273.23L536.79 273.23L537.12 234.70L537.55 208.74L538.14 188.65L538.56 179.17L538.98 172.06L539.65 164.16L539.99 161.51L540.49 158.45L541.17 154.82L541.76 152.21L542.35 150.25L542.68 149.46L542.94 149.03L543.27 148.72L543.52 148.71L543.69 148.93L543.86 149.35L544.28 151.19L544.70 154.02L545.21 158.45L545.63 162.95L545.97 168.53L546.22 174.38L546.64 188.69L546.98 207.52L547.23 232.94L547.40 272.16L547.48 273.23L547.57 272.67L547.73 234.35L547.90 216.39L548.16 199.86L548.58 183.09L549.08 170.81L549.59 163.16L550.01 159.12L550.60 154.49L551.10 151.36L551.52 149.51L551.86 148.60L552.11 148.30L552.28 148.29L552.45 148.37L552.79 148.76L553.12 149.42L553.55 150.61L554.39 154.02L555.31 159.04L555.90 163.01L556.41 168.12L556.91 175.34L557.33 183.50L557.67 192.07L558.18 210.90L558.51 232.40L558.85 273.23L559.02 273.23L559.36 233.66L559.69 212.94L560.20 194.98L560.53 186.81L560.96 178.96L561.38 172.92L561.80 168.20L562.30 163.91L562.81 160.83L563.82 155.73L564.75 152.16L565.17 150.98L565.59 150.12L566.01 149.61L566.35 149.47L566.60 149.62L566.85 150.05L567.10 150.74L567.44 152.02L568.11 155.66L568.79 160.44L569.12 163.26L569.46 167.28L570.05 178.16L570.56 193.23L570.98 213.84L571.23 234.92L571.48 273.23L571.65 273.23L571.90 237.63L572.16 218.45L572.49 203.63L572.83 194.47L573.08 189.91L573.59 183.65L574.01 179.64L574.43 177.13L574.60 176.62L574.77 176.45L574.85 176.50L575.02 176.93L575.36 178.90L575.69 182.14L576.37 191.63L576.62 197.90L576.87 207.16L577.12 221.19L577.29 235.60L577.54 273.23L577.71 273.23L577.97 235.94L578.30 210.85L578.81 190.40L579.40 175.94L580.07 165.36L580.49 160.84L580.91 157.60L581.84 152.18L582.68 148.35L583.10 146.95L583.44 146.12L583.86 145.48L584.20 145.31L584.53 145.49L584.87 146.03L585.21 146.87L585.54 148L586.30 151.46L587.14 156.49L587.57 159.56L587.90 163.12L588.24 167.84L588.58 173.92L589.17 189.04L589.67 209.86L590.01 233.29L590.34 273.23L590.51 273.23L590.60 270.70L590.85 239.60L591.19 220.02L591.69 203.55L592.28 191.88L592.70 186.07L593.12 181.59L593.63 177.53L594.30 173.44L595.06 169.49L595.82 166.48L596.15 165.50L596.49 164.77L596.83 164.31L597.17 164.15L597.67 164.31L598.18 164.77L598.68 165.50L599.19 166.48L599.69 167.68L600.28 169.36L601.46 173.44L602.72 178.61L603.57 182.94L604.32 188.11L604.91 193.57L605.33 198.70L605.75 205.48L606.09 212.78L606.34 220.06L606.76 239.23L607.10 273.23L607.35 273.23L607.69 224.52L608.03 200.65L608.20 194.37L608.45 189.19L608.87 183.57L609.29 180.02L610.05 175.33L610.81 171.27L611.65 167.33L612.49 163.89L613.42 160.57L614.43 157.40L615.52 154.41L616.62 151.83L617.80 149.43L619.06 147.25L620.32 145.44L621.67 143.87L623.02 142.67L624.36 141.81L625.04 141.51L625.71 141.30L626.98 141.14L627.40 141.18L627.90 141.34L628.83 141.90L629.75 142.80L630.76 144.17L631.77 145.92L632.70 147.86L633.71 150.36L634.64 153L635.56 156L636.49 159.35L637.42 163.09L638.26 166.83L640.11 176.22L641.37 183.37L641.88 186.68L642.30 190.40L642.64 194.72L642.97 201.86L643.23 209.75L643.48 220.90L643.73 237.86L643.99 270.85L644.07 273.23L644.24 273.23L644.32 271.26L644.49 246.64L644.83 221.83L645.16 207.62L645.67 194.54L646.09 188.07L646.43 184.82L646.76 182.32L647.27 179.39L648.62 172.78L649.88 167.18L650.81 163.88L651.98 160.50L653.25 157.45L654.85 154.13L656.45 151.15L657.80 149L659.40 146.99L661 145.32L662.01 144.53L663.27 143.81L664.45 143.27L665.54 142.95L666.89 142.80L672.62 142.37L677.50 142.33" stroke="#000000" stroke-width="0.8"/>
<path d="M374.35 213.97L380.41 213.86L383.53 213.73L384.46 213.62L385.63 213.34L386.98 212.87L388.50 212.20L390.35 211.26L391.11 210.76L391.87 210.13L393.72 208.24L397.59 203.83L401.38 198.86L402.22 197.92L402.98 197.20L403.57 196.73L405.93 195.15L408.37 193.72L409.46 193.20L410.48 192.81L411.40 192.54L412.33 192.37L413.42 192.32L414.26 192.48L415.28 192.94L416.29 193.66L417.21 194.50L418.22 195.58L421.59 199.68L422.77 200.99L423.44 201.62L425.38 203.21L426.90 204.33L427.65 204.76L428.33 205.03L433.13 206.13L433.97 206.42L434.47 206.72L434.98 207.51L435.49 208.83L436.07 210.89L436.66 213.39L437.42 216.94L437.84 219.28L438.26 222.20L438.60 225.20L439.02 230.49L439.44 240.75L439.70 250.45L440.12 273.23L441.13 273.23L441.55 256.17L441.97 244.97L442.64 233.15L443.40 224.51L443.82 221.02L444.33 217.76L445.17 213.43L445.93 210.09L446.60 207.73L447.19 206.21L447.53 205.60L447.78 205.28L448.12 205.04L448.37 205.03L448.62 205.38L448.96 206.42L449.55 209.62L450.39 216.51L450.81 221.32L451.23 229.03L451.65 240.87L451.99 255.43L452.24 272.50L452.33 273.23L453.08 273.23L453.34 256.58L453.67 242.15L454.10 230.10L454.68 219.11L455.27 212.42L455.86 208.03L456.45 204.31L456.87 202.21L457.30 200.64L457.72 199.70L457.97 199.47L458.14 199.47L458.31 199.64L458.47 199.95L458.81 200.99L459.15 202.53L459.57 205.07L460.50 212.51L461.08 219.68L461.59 229.54L461.93 239.64L462.18 250.88L462.52 273.23L462.94 273.23L463.02 272.04L463.27 243.96L463.61 222.45L464.03 205.62L464.45 194.64L464.96 186.48L465.88 178.68L466.39 175.56L466.81 173.71L467.23 172.66L467.40 172.50L467.57 172.50L467.74 172.66L467.99 173.19L468.41 174.73L468.92 177.54L469.42 181.22L469.93 185.54L470.18 188.34L470.77 198.18L471.19 209.39L471.53 223.11L471.86 247.07L472.03 271.11L472.12 273.23L472.28 273.23L472.37 269.93L472.54 244.80L472.71 229.74L472.96 214.41L473.38 197.56L473.88 184.25L474.39 175.14L474.98 168.03L475.23 165.92L475.74 162.62L476.66 157.51L477.08 155.74L477.51 154.37L477.93 153.45L478.26 153.09L478.43 153.04L478.68 153.13L479.11 153.62L479.53 154.51L479.95 155.76L480.79 159.21L481.55 163.19L483.15 172.67L483.74 175.56L484.07 176.75L484.33 177.33L484.58 177.62L484.83 177.58L485.08 177.26L485.42 176.48L486.01 174.32L488.37 162.21L488.96 159.52L489.55 157.24L490.14 155.43L490.64 154.31L491.15 153.63L491.40 153.47L491.65 153.46L491.90 153.69L492.16 154.17L492.41 154.90L492.75 156.19L493.42 159.79L494.09 164.45L494.43 167.17L494.77 170.95L495.36 181.02L495.86 194.67L496.28 212.77L496.62 238.41L496.87 273.23L497.04 273.23L497.38 232.11L497.80 208.04L498.14 196.89L498.56 187.72L498.89 182.91L499.57 176.49L500.16 172.39L500.49 170.82L500.75 170.06L500.92 169.78L501.25 169.58L502.85 169.17L504.03 168.65L504.96 167.99L505.38 167.48L505.80 166.62L506.22 165.52L507.82 160.58L508.75 158.11L510.43 153.20L510.85 152.25L511.27 151.54L511.61 151.18L511.95 151.06L512.28 151.21L512.62 151.65L512.96 152.36L513.38 153.61L514.14 156.83L514.89 161.27L515.57 166.22L516.24 172.12L518.51 195.64L519.02 199.26L519.27 200.28L519.44 200.60L519.53 200.64L519.69 200.52L519.95 199.87L520.45 197.26L520.96 193.45L522.64 179.02L523.23 174.71L523.82 171.09L524.41 168.25L524.91 166.46L525.42 165.34L525.67 165.04L525.92 164.94L526.18 165.04L526.43 165.34L526.94 166.46L527.44 168.25L527.95 170.64L528.54 174.15L529.12 178.36L530.89 193.45L531.40 197.26L531.74 199.18L531.99 200.14L532.16 200.52L532.32 200.64L532.41 200.60L532.58 200.28L533 198.26L533.42 194.88L535.52 172.92L536.20 166.91L536.79 162.42L537.55 157.71L538.22 154.55L538.89 152.36L539.23 151.65L539.57 151.21L539.90 151.06L540.07 151.09L540.32 151.25L540.75 151.79L541.25 152.79L541.84 154.33L543.10 158.11L544.03 160.58L545.63 165.52L546.05 166.62L546.47 167.48L546.81 167.92L547.65 168.55L548.91 169.14L550.26 169.46L550.77 169.66L551.02 169.89L551.19 170.27L551.61 171.94L552.03 174.54L552.45 177.94L552.96 182.91L553.38 189.24L553.80 199.28L554.13 211.64L554.39 225.73L554.56 239.94L554.81 273.23L554.98 273.23L555.23 238.41L555.57 212.77L555.99 194.67L556.49 181.02L557.08 170.95L557.42 167.17L557.76 164.45L558.43 159.79L559.10 156.19L559.44 154.90L559.69 154.17L559.95 153.69L560.20 153.46L560.45 153.47L560.70 153.63L561.21 154.31L561.71 155.43L562.30 157.24L562.89 159.52L563.48 162.21L565.84 174.32L566.43 176.48L566.77 177.26L567.02 177.58L567.27 177.62L567.52 177.33L567.78 176.75L568.11 175.56L568.70 172.67L570.30 163.19L571.06 159.21L571.90 155.76L572.32 154.51L572.74 153.62L573.17 153.13L573.42 153.04L573.59 153.09L573.92 153.45L574.34 154.37L574.77 155.74L575.19 157.51L576.11 162.62L576.62 165.92L576.87 168.03L577.46 175.14L577.97 184.25L578.47 197.56L578.89 214.41L579.14 229.74L579.31 244.80L579.48 269.93L579.57 273.23L579.73 273.23L579.82 271.11L579.99 247.07L580.32 223.11L580.66 209.39L581.08 198.18L581.67 188.34L581.92 185.54L582.43 181.22L582.93 177.54L583.44 174.73L583.86 173.19L584.11 172.66L584.28 172.50L584.45 172.50L584.62 172.66L585.04 173.71L585.46 175.56L585.97 178.68L586.89 186.48L587.40 194.64L587.82 205.62L588.24 222.45L588.58 243.96L588.83 272.04L588.91 273.23L589.33 273.23L589.67 250.88L589.92 239.64L590.26 229.54L590.77 219.68L591.35 212.51L592.28 205.07L592.70 202.53L593.04 200.99L593.38 199.95L593.54 199.64L593.71 199.47L593.88 199.47L594.13 199.70L594.55 200.64L594.98 202.21L595.40 204.31L595.99 208.03L596.58 212.42L597.17 219.11L597.75 230.10L598.18 242.15L598.51 256.58L598.77 273.23L599.52 273.23L599.61 272.50L599.86 255.43L600.20 240.87L600.62 229.03L601.04 221.32L601.46 216.51L602.30 209.62L602.89 206.42L603.23 205.38L603.48 205.03L603.73 205.04L604.07 205.28L604.32 205.60L604.66 206.21L605.25 207.73L605.92 210.09L606.68 213.43L607.52 217.76L608.03 221.02L608.45 224.51L609.21 233.15L609.88 244.97L610.30 256.17L610.72 273.23L611.73 273.23L612.15 250.45L612.41 240.75L612.83 230.49L613.25 225.20L613.59 222.20L614.01 219.28L614.43 216.94L615.19 213.39L615.78 210.89L616.36 208.83L616.87 207.51L617.38 206.72L617.88 206.42L618.72 206.13L623.52 205.03L624.20 204.76L624.95 204.33L626.47 203.21L628.41 201.62L629.08 200.99L630.26 199.68L633.63 195.58L634.64 194.50L635.56 193.66L636.57 192.94L637.59 192.48L638.43 192.32L639.52 192.37L640.45 192.54L641.37 192.81L642.39 193.20L643.48 193.72L645.92 195.15L648.28 196.73L648.87 197.20L649.63 197.92L650.47 198.86L654.26 203.83L658.13 208.24L659.98 210.13L660.74 210.76L661.50 211.26L663.35 212.20L664.87 212.87L666.22 213.34L667.39 213.62L668.32 213.73L671.44 213.86L677.50 213.97" stroke="#ff0000" stroke-width="1.6"/>
</g>
<rect x="594.7" y="10.2" width="75.9" height="59.9" fill="#fff" stroke="#262626" stroke-width="0.8"/>
<path d="M598.1 17.50h27.3" stroke="#00ffff" stroke-width="0.8"/>
<text class="lg" x="628.0" y="20.5">DE/f1</text>
<path d="M598.1 29.20h27.3" stroke="#00ff00" stroke-width="0.8"/>
<text class="lg" x="628.0" y="32.2">TLBO/f1</text>
<path d="M598.1 40.90h27.3" stroke="#0000ff" stroke-width="0.8"/>
<text class="lg" x="628.0" y="43.9">QPSO/f1</text>
<path d="M598.1 52.60h27.3" stroke="#000000" stroke-width="0.8"/>
<text class="lg" x="628.0" y="55.6">DO/f1</text>
<path d="M598.1 64.30h27.3" stroke="#ff0000" stroke-width="1.6"/>
<text class="lg" x="628.0" y="67.3">CENDO/f1</text>
<text class="cap" x="172.1" y="292.7">(a)</text>
<text class="cap" x="535.0" y="290.0">(b)</text>
</svg>
</body></html>
